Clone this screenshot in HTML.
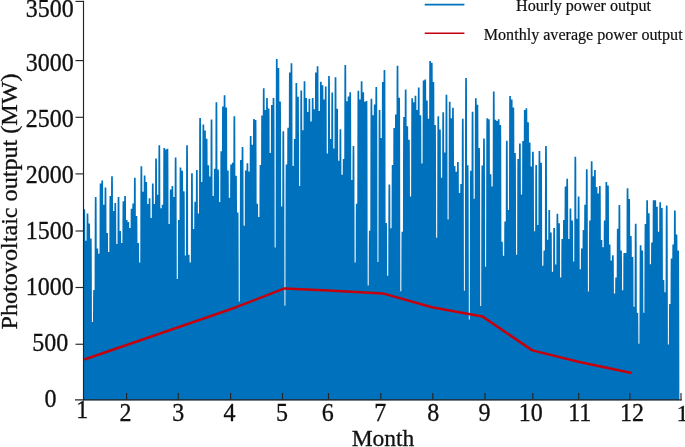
<!DOCTYPE html>
<html><head><meta charset="utf-8"><title>Photovoltaic output</title>
<style>
html,body{margin:0;padding:0;background:#fff;}
body{width:685px;height:447px;overflow:hidden;position:relative;font-family:"Liberation Serif",serif;}
svg{position:absolute;left:0;top:0;}
text{font-family:"Liberation Serif",serif;fill:#111;stroke:#111;stroke-width:0.3px;}
</style></head><body>
<svg width="685" height="447" viewBox="0 0 685 447">
<rect width="685" height="447" fill="#fff"/>
<path d="M83.90,209.2 83.90,216.8 83.90,232.1 83.90,256.9 83.90,295.1 83.90,342.9 83.90,400.2 85.53,400.2 85.45,342.9 85.37,295.1 85.30,256.9 85.24,232.1 85.19,216.8 85.11,209.2ZM85.04,240.7 84.97,247.1 84.91,259.8 84.85,280.6 84.78,312.5 84.70,352.3 84.62,400.2 87.16,400.2 87.08,352.3 87.01,312.5 86.93,280.6 86.87,259.8 86.82,247.1 86.74,240.7ZM86.67,213.6 86.60,221.0 86.54,236.0 86.48,260.2 86.41,297.6 86.33,344.2 86.25,400.2 88.79,400.2 88.71,344.2 88.64,297.6 88.57,260.2 88.51,236.0 88.45,221.0 88.37,213.6ZM88.30,223.4 88.23,230.5 88.17,244.6 88.11,267.6 88.04,303.0 87.97,347.2 87.88,400.2 90.42,400.2 90.34,347.2 90.27,303.0 90.20,267.6 90.14,244.6 90.08,230.5 90.00,223.4ZM89.94,238.6 89.86,245.1 89.80,258.0 89.74,279.0 89.67,311.3 89.60,351.7 89.52,400.2 92.06,400.2 91.97,351.7 91.90,311.3 91.83,279.0 91.77,258.0 91.71,245.1 91.64,238.6ZM91.57,322.0 91.49,325.1 91.44,331.4 91.37,341.6 91.30,357.2 91.23,376.7 91.15,400.2 93.69,400.2 93.61,376.7 93.53,357.2 93.46,341.6 93.40,331.4 93.34,325.1 93.27,322.0ZM93.20,290.0 93.12,294.4 93.07,303.2 93.01,317.6 92.93,339.6 92.86,367.1 92.78,400.2 95.32,400.2 95.24,367.1 95.16,339.6 95.09,317.6 95.03,303.2 94.97,294.4 94.90,290.0ZM94.83,196.9 94.75,205.1 94.70,221.3 94.64,247.8 94.57,288.4 94.49,339.2 94.41,400.2 96.95,400.2 96.87,339.2 96.79,288.4 96.72,247.8 96.66,221.3 96.61,205.1 96.53,196.9ZM96.46,248.5 96.39,254.6 96.33,266.7 96.27,286.4 96.20,316.8 96.12,354.7 96.04,400.2 98.58,400.2 98.50,354.7 98.43,316.8 98.36,286.4 98.29,266.7 98.24,254.6 98.16,248.5ZM98.09,253.8 98.02,259.7 97.96,271.4 97.90,290.4 97.83,319.7 97.75,356.3 97.67,400.2 100.21,400.2 100.13,356.3 100.06,319.7 99.99,290.4 99.93,271.4 99.87,259.7 99.79,253.8ZM99.73,183.4 99.65,192.1 99.59,209.5 99.53,237.6 99.46,281.0 99.39,335.2 99.31,400.2 101.84,400.2 101.76,335.2 101.69,281.0 101.62,237.6 101.56,209.5 101.50,192.1 101.42,183.4ZM101.36,180.6 101.28,189.4 101.22,207.0 101.16,235.5 101.09,279.4 101.02,334.3 100.94,400.2 103.48,400.2 103.40,334.3 103.32,279.4 103.25,235.5 103.19,207.0 103.13,189.4 103.06,180.6ZM102.99,204.8 102.91,212.6 102.86,228.3 102.79,253.7 102.72,292.7 102.65,341.6 102.57,400.2 105.11,400.2 105.03,341.6 104.95,292.7 104.88,253.7 104.82,228.3 104.76,212.6 104.69,204.8ZM104.62,187.6 104.54,196.2 104.49,213.2 104.43,240.8 104.36,283.3 104.28,336.4 104.20,400.2 106.74,400.2 106.66,336.4 106.58,283.3 106.51,240.8 106.45,213.2 106.40,196.2 106.32,187.6ZM106.25,233.0 106.18,239.7 106.12,253.1 106.06,274.8 105.99,308.2 105.91,350.0 105.83,400.2 108.37,400.2 108.29,350.0 108.22,308.2 108.14,274.8 108.08,253.1 108.03,239.7 107.95,233.0ZM107.88,252.0 107.81,257.9 107.75,269.8 107.69,289.1 107.62,318.7 107.54,355.7 107.46,400.2 110.00,400.2 109.92,355.7 109.85,318.7 109.78,289.1 109.71,269.8 109.66,257.9 109.58,252.0ZM109.51,196.1 109.44,204.2 109.38,220.6 109.32,247.1 109.25,287.9 109.18,339.0 109.09,400.2 111.63,400.2 111.55,339.0 111.48,287.9 111.41,247.1 111.35,220.6 111.29,204.2 111.21,196.1ZM111.15,176.3 111.07,185.2 111.01,203.1 110.95,232.2 110.88,277.0 110.81,333.0 110.73,400.2 113.27,400.2 113.18,333.0 113.11,277.0 113.04,232.2 112.98,203.1 112.92,185.2 112.85,176.3ZM112.78,210.9 112.70,218.5 112.64,233.7 112.58,258.3 112.51,296.1 112.44,343.4 112.36,400.2 114.90,400.2 114.82,343.4 114.74,296.1 114.67,258.3 114.61,233.7 114.55,218.5 114.48,210.9ZM114.41,203.1 114.33,211.0 114.28,226.7 114.22,252.3 114.14,291.8 114.07,341.1 113.99,400.2 116.53,400.2 116.45,341.1 116.37,291.8 116.30,252.3 116.24,226.7 116.18,211.0 116.11,203.1ZM116.04,244.0 115.96,250.2 115.91,262.7 115.85,283.1 115.78,314.3 115.70,353.3 115.62,400.2 118.16,400.2 118.08,353.3 118.00,314.3 117.93,283.1 117.87,262.7 117.82,250.2 117.74,244.0ZM117.67,196.9 117.60,205.1 117.54,221.3 117.48,247.8 117.41,288.4 117.33,339.2 117.25,400.2 119.79,400.2 119.71,339.2 119.64,288.4 119.56,247.8 119.50,221.3 119.45,205.1 119.37,196.9ZM119.30,231.0 119.23,237.8 119.17,251.3 119.11,273.3 119.04,307.1 118.96,349.4 118.88,400.2 121.42,400.2 121.34,349.4 121.27,307.1 121.20,273.3 121.14,251.3 121.08,237.8 121.00,231.0ZM120.93,243.0 120.86,249.3 120.80,261.9 120.74,282.3 120.67,313.7 120.60,353.0 120.51,400.2 123.05,400.2 122.97,353.0 122.90,313.7 122.83,282.3 122.77,261.9 122.71,249.3 122.63,243.0ZM122.57,201.3 122.49,209.3 122.43,225.2 122.37,251.0 122.30,290.8 122.23,340.5 122.15,400.2 124.69,400.2 124.60,340.5 124.53,290.8 124.46,251.0 124.40,225.2 124.34,209.3 124.27,201.3ZM124.20,196.1 124.12,204.2 124.07,220.6 124.00,247.1 123.93,287.9 123.86,339.0 123.78,400.2 126.32,400.2 126.24,339.0 126.16,287.9 126.09,247.1 126.03,220.6 125.97,204.2 125.90,196.1ZM125.83,220.0 125.75,227.2 125.70,241.6 125.64,265.1 125.56,301.1 125.49,346.1 125.41,400.2 127.95,400.2 127.87,346.1 127.79,301.1 127.72,265.1 127.66,241.6 127.60,227.2 127.53,220.0ZM127.46,222.0 127.38,229.1 127.33,243.4 127.27,266.6 127.20,302.2 127.12,346.7 127.04,400.2 129.58,400.2 129.50,346.7 129.42,302.2 129.35,266.6 129.29,243.4 129.24,229.1 129.16,222.0ZM129.09,228.0 129.02,234.9 128.96,248.7 128.90,271.1 128.83,305.5 128.75,348.5 128.67,400.2 131.21,400.2 131.13,348.5 131.06,305.5 130.99,271.1 130.92,248.7 130.87,234.9 130.79,228.0ZM130.72,208.8 130.65,216.5 130.59,231.8 130.53,256.7 130.46,295.0 130.38,342.8 130.30,400.2 132.84,400.2 132.76,342.8 132.69,295.0 132.62,256.7 132.56,231.8 132.50,216.5 132.42,208.8ZM132.36,203.4 132.28,211.3 132.22,227.0 132.16,252.6 132.09,292.0 132.02,341.2 131.94,400.2 134.48,400.2 134.39,341.2 134.32,292.0 134.25,252.6 134.19,227.0 134.13,211.3 134.06,203.4ZM133.99,177.7 133.91,186.6 133.85,204.4 133.79,233.3 133.72,277.8 133.65,333.4 133.57,400.2 136.11,400.2 136.03,333.4 135.95,277.8 135.88,233.3 135.82,204.4 135.76,186.6 135.69,177.7ZM135.62,215.9 135.54,223.2 135.49,238.0 135.42,261.9 135.35,298.8 135.28,344.9 135.20,400.2 137.74,400.2 137.66,344.9 137.58,298.8 137.51,261.9 137.45,238.0 137.39,223.2 137.32,215.9ZM137.25,243.0 137.17,249.3 137.12,261.9 137.06,282.3 136.99,313.7 136.91,353.0 136.83,400.2 139.37,400.2 139.29,353.0 139.21,313.7 139.14,282.3 139.08,261.9 139.03,249.3 138.95,243.0ZM138.88,262.6 138.81,268.1 138.75,279.1 138.69,297.0 138.62,324.5 138.54,358.9 138.46,400.2 141.00,400.2 140.92,358.9 140.85,324.5 140.77,297.0 140.71,279.1 140.66,268.1 140.58,262.6ZM140.51,166.3 140.44,175.6 140.38,194.3 140.32,224.8 140.25,271.5 140.17,330.0 140.09,400.2 142.63,400.2 142.55,330.0 142.48,271.5 142.41,224.8 142.34,194.3 142.29,175.6 142.21,166.3ZM142.14,191.7 142.07,200.0 142.01,216.7 141.95,243.8 141.88,285.5 141.81,337.6 141.72,400.2 144.26,400.2 144.18,337.6 144.11,285.5 144.04,243.8 143.98,216.7 143.92,200.0 143.84,191.7ZM143.78,175.6 143.70,184.5 143.64,202.5 143.58,231.7 143.51,276.6 143.44,332.8 143.36,400.2 145.90,400.2 145.81,332.8 145.74,276.6 145.67,231.7 145.61,202.5 145.55,184.5 145.48,175.6ZM145.41,182.0 145.33,190.8 145.27,208.2 145.21,236.6 145.14,280.2 145.07,334.8 144.99,400.2 147.53,400.2 147.45,334.8 147.37,280.2 147.30,236.6 147.24,208.2 147.18,190.8 147.11,182.0ZM147.04,203.9 146.96,211.8 146.91,227.5 146.85,253.0 146.77,292.3 146.70,341.3 146.62,400.2 149.16,400.2 149.08,341.3 149.00,292.3 148.93,253.0 148.87,227.5 148.81,211.8 148.74,203.9ZM148.67,198.3 148.59,206.4 148.54,222.6 148.48,248.8 148.41,289.2 148.33,339.6 148.25,400.2 150.79,400.2 150.71,339.6 150.63,289.2 150.56,248.8 150.50,222.6 150.45,206.4 150.37,198.3ZM150.30,218.0 150.23,225.3 150.17,239.9 150.11,263.6 150.04,300.0 149.96,345.5 149.88,400.2 152.42,400.2 152.34,345.5 152.27,300.0 152.19,263.6 152.13,239.9 152.08,225.3 152.00,218.0ZM151.93,183.4 151.86,192.1 151.80,209.5 151.74,237.6 151.67,281.0 151.59,335.2 151.51,400.2 154.05,400.2 153.97,335.2 153.90,281.0 153.83,237.6 153.77,209.5 153.71,192.1 153.63,183.4ZM153.56,203.9 153.49,211.8 153.43,227.5 153.37,253.0 153.30,292.3 153.23,341.3 153.14,400.2 155.68,400.2 155.60,341.3 155.53,292.3 155.46,253.0 155.40,227.5 155.34,211.8 155.26,203.9ZM155.20,158.4 155.12,168.1 155.06,187.4 155.00,218.8 154.93,267.2 154.86,327.7 154.78,400.2 157.32,400.2 157.23,327.7 157.16,267.2 157.09,218.8 157.03,187.4 156.97,168.1 156.90,158.4ZM156.83,194.7 156.75,202.9 156.70,219.3 156.63,246.0 156.56,287.2 156.49,338.5 156.41,400.2 158.95,400.2 158.87,338.5 158.79,287.2 158.72,246.0 158.66,219.3 158.60,202.9 158.53,194.7ZM158.46,145.3 158.38,155.5 158.33,175.8 158.27,209.0 158.19,260.0 158.12,323.7 158.04,400.2 160.58,400.2 160.50,323.7 160.42,260.0 160.35,209.0 160.29,175.8 160.23,155.5 160.16,145.3ZM160.09,208.3 160.01,216.0 159.96,231.3 159.90,256.3 159.83,294.7 159.75,342.6 159.67,400.2 162.21,400.2 162.13,342.6 162.05,294.7 161.98,256.3 161.92,231.3 161.87,216.0 161.79,208.3ZM161.72,204.8 161.65,212.6 161.59,228.3 161.53,253.7 161.46,292.7 161.38,341.6 161.30,400.2 163.84,400.2 163.76,341.6 163.69,292.7 163.62,253.7 163.55,228.3 163.50,212.6 163.42,204.8ZM163.35,147.9 163.28,158.0 163.22,178.2 163.16,211.0 163.09,261.4 163.01,324.5 162.93,400.2 165.47,400.2 165.39,324.5 165.32,261.4 165.25,211.0 165.19,178.2 165.13,158.0 165.05,147.9ZM164.99,149.6 164.91,159.7 164.85,179.7 164.79,212.3 164.72,262.4 164.65,325.0 164.56,400.2 167.11,400.2 167.02,325.0 166.95,262.4 166.88,212.3 166.82,179.7 166.76,159.7 166.69,149.6ZM166.62,148.8 166.54,158.8 166.48,178.9 166.42,211.6 166.35,261.9 166.28,324.8 166.20,400.2 168.74,400.2 168.66,324.8 168.58,261.9 168.51,211.6 168.45,178.9 168.39,158.8 168.32,148.8ZM168.25,224.0 168.17,231.0 168.12,245.1 168.05,268.1 167.98,303.3 167.91,347.3 167.83,400.2 170.37,400.2 170.29,347.3 170.21,303.3 170.14,268.1 170.08,245.1 170.02,231.0 169.95,224.0ZM169.88,189.4 169.80,197.8 169.75,214.7 169.69,242.1 169.62,284.3 169.54,337.0 169.46,400.2 172.00,400.2 171.92,337.0 171.84,284.3 171.77,242.1 171.71,214.7 171.66,197.8 171.58,189.4ZM171.51,185.9 171.44,194.5 171.38,211.6 171.32,239.5 171.25,282.3 171.17,335.9 171.09,400.2 173.63,400.2 173.55,335.9 173.48,282.3 173.40,239.5 173.34,211.6 173.29,194.5 173.21,185.9ZM173.14,196.9 173.07,205.1 173.01,221.3 172.95,247.8 172.88,288.4 172.80,339.2 172.72,400.2 175.26,400.2 175.18,339.2 175.11,288.4 175.04,247.8 174.97,221.3 174.92,205.1 174.84,196.9ZM174.77,157.5 174.70,167.2 174.64,186.6 174.58,218.2 174.51,266.7 174.44,327.4 174.35,400.2 176.89,400.2 176.81,327.4 176.74,266.7 176.67,218.2 176.61,186.6 176.55,167.2 176.47,157.5ZM176.41,279.0 176.33,283.8 176.27,293.5 176.21,309.3 176.14,333.5 176.07,363.8 175.99,400.2 178.53,400.2 178.44,363.8 178.37,333.5 178.30,309.3 178.24,293.5 178.18,283.8 178.11,279.0ZM178.04,220.0 177.96,227.2 177.90,241.6 177.84,265.1 177.77,301.1 177.70,346.1 177.62,400.2 180.16,400.2 180.08,346.1 180.00,301.1 179.93,265.1 179.87,241.6 179.81,227.2 179.74,220.0ZM179.67,167.5 179.59,176.8 179.54,195.4 179.48,225.7 179.40,272.2 179.33,330.4 179.25,400.2 181.79,400.2 181.71,330.4 181.63,272.2 181.56,225.7 181.50,195.4 181.44,176.8 181.37,167.5ZM181.30,170.7 181.22,179.8 181.17,198.2 181.11,228.0 181.04,274.0 180.96,331.3 180.88,400.2 183.42,400.2 183.34,331.3 183.26,274.0 183.19,228.0 183.13,198.2 183.08,179.8 183.00,170.7ZM182.93,191.2 182.86,199.5 182.80,216.2 182.74,243.4 182.67,285.2 182.59,337.5 182.51,400.2 185.05,400.2 184.97,337.5 184.90,285.2 184.82,243.4 184.76,216.2 184.71,199.5 184.63,191.2ZM184.56,255.5 184.49,261.3 184.43,272.9 184.37,291.7 184.30,320.6 184.22,356.8 184.14,400.2 186.68,400.2 186.60,356.8 186.53,320.6 186.46,291.7 186.40,272.9 186.34,261.3 186.26,255.5ZM186.19,145.3 186.12,155.5 186.06,175.8 186.00,209.0 185.93,260.0 185.86,323.7 185.77,400.2 188.31,400.2 188.23,323.7 188.16,260.0 188.09,209.0 188.03,175.8 187.97,155.5 187.89,145.3ZM187.83,254.7 187.75,260.5 187.69,272.2 187.63,291.1 187.56,320.2 187.49,356.5 187.41,400.2 189.95,400.2 189.86,356.5 189.79,320.2 189.72,291.1 189.66,272.2 189.60,260.5 189.53,254.7ZM189.46,262.5 189.38,268.0 189.33,279.0 189.26,296.9 189.19,324.5 189.12,358.9 189.04,400.2 191.58,400.2 191.50,358.9 191.42,324.5 191.35,296.9 191.29,279.0 191.23,268.0 191.16,262.5ZM191.09,173.3 191.01,182.4 190.96,200.5 190.90,230.0 190.82,275.4 190.75,332.1 190.67,400.2 193.21,400.2 193.13,332.1 193.05,275.4 192.98,230.0 192.92,200.5 192.86,182.4 192.79,173.3ZM192.72,229.0 192.64,235.8 192.59,249.5 192.53,271.8 192.46,306.0 192.38,348.8 192.30,400.2 194.84,400.2 194.76,348.8 194.68,306.0 194.61,271.8 194.55,249.5 194.50,235.8 194.42,229.0ZM194.35,201.7 194.28,209.6 194.22,225.5 194.16,251.3 194.09,291.0 194.01,340.6 193.93,400.2 196.47,400.2 196.39,340.6 196.32,291.0 196.25,251.3 196.18,225.5 196.13,209.6 196.05,201.7ZM195.98,170.1 195.91,179.3 195.85,197.7 195.79,227.6 195.72,273.7 195.64,331.2 195.56,400.2 198.10,400.2 198.02,331.2 197.95,273.7 197.88,227.6 197.82,197.7 197.76,179.3 197.68,170.1ZM197.62,213.6 197.54,221.0 197.48,236.0 197.42,260.2 197.35,297.6 197.28,344.2 197.19,400.2 199.74,400.2 199.65,344.2 199.58,297.6 199.51,260.2 199.45,236.0 199.39,221.0 199.31,213.6ZM199.25,118.0 199.17,129.3 199.11,151.9 199.05,188.6 198.98,245.0 198.91,315.5 198.83,400.2 201.37,400.2 201.29,315.5 201.21,245.0 201.14,188.6 201.08,151.9 201.02,129.3 200.95,118.0ZM200.88,181.9 200.80,190.6 200.75,208.1 200.68,236.5 200.61,280.1 200.54,334.7 200.46,400.2 203.00,400.2 202.92,334.7 202.84,280.1 202.77,236.5 202.71,208.1 202.65,190.6 202.58,181.9ZM202.51,124.5 202.43,135.5 202.38,157.6 202.32,193.4 202.25,248.6 202.17,317.5 202.09,400.2 204.63,400.2 204.55,317.5 204.47,248.6 204.40,193.4 204.34,157.6 204.29,135.5 204.21,124.5ZM204.14,130.6 204.07,141.4 204.01,163.0 203.95,198.0 203.88,251.9 203.80,319.3 203.72,400.2 206.26,400.2 206.18,319.3 206.11,251.9 206.03,198.0 205.97,163.0 205.92,141.4 205.84,130.6ZM205.77,138.7 205.70,149.2 205.64,170.1 205.58,204.1 205.51,256.4 205.43,321.8 205.35,400.2 207.89,400.2 207.81,321.8 207.74,256.4 207.67,204.1 207.60,170.1 207.55,149.2 207.47,138.7ZM207.40,165.3 207.33,174.7 207.27,193.5 207.21,224.0 207.14,271.0 207.07,329.7 206.98,400.2 209.52,400.2 209.44,329.7 209.37,271.0 209.30,224.0 209.24,193.5 209.18,174.7 209.10,165.3ZM209.04,176.6 208.96,185.5 208.90,203.4 208.84,232.5 208.77,277.2 208.70,333.1 208.62,400.2 211.16,400.2 211.07,333.1 211.00,277.2 210.93,232.5 210.87,203.4 210.81,185.5 210.74,176.6ZM210.67,119.4 210.59,130.7 210.53,153.1 210.47,189.6 210.40,245.8 210.33,316.0 210.25,400.2 212.79,400.2 212.71,316.0 212.63,245.8 212.56,189.6 212.50,153.1 212.44,130.7 212.37,119.4ZM212.30,195.9 212.22,204.1 212.17,220.4 212.11,247.0 212.03,287.8 211.96,338.9 211.88,400.2 214.42,400.2 214.34,338.9 214.26,287.8 214.19,247.0 214.13,220.4 214.07,204.1 214.00,195.9ZM213.93,168.8 213.85,178.1 213.80,196.6 213.74,226.7 213.67,272.9 213.59,330.8 213.51,400.2 216.05,400.2 215.97,330.8 215.89,272.9 215.82,226.7 215.76,196.6 215.71,178.1 215.63,168.8ZM215.56,102.3 215.49,114.2 215.43,138.0 215.37,176.7 215.30,236.3 215.22,310.8 215.14,400.2 217.68,400.2 217.60,310.8 217.53,236.3 217.45,176.7 217.39,138.0 217.34,114.2 217.26,102.3ZM217.19,169.6 217.12,178.8 217.06,197.3 217.00,227.2 216.93,273.4 216.85,331.0 216.77,400.2 219.31,400.2 219.23,331.0 219.16,273.4 219.09,227.2 219.03,197.3 218.97,178.8 218.89,169.6ZM218.82,202.0 218.75,209.9 218.69,225.8 218.63,251.6 218.56,291.2 218.49,340.7 218.40,400.2 220.94,400.2 220.86,340.7 220.79,291.2 220.72,251.6 220.66,225.8 220.60,209.9 220.52,202.0ZM220.46,151.3 220.38,161.3 220.32,181.2 220.26,213.5 220.19,263.3 220.12,325.5 220.04,400.2 222.58,400.2 222.49,325.5 222.42,263.3 222.35,213.5 222.29,181.2 222.23,161.3 222.16,151.3ZM222.09,106.6 222.01,118.4 221.96,141.9 221.89,180.0 221.82,238.7 221.75,312.1 221.67,400.2 224.21,400.2 224.13,312.1 224.05,238.7 223.98,180.0 223.92,141.9 223.86,118.4 223.79,106.6ZM223.72,95.3 223.64,107.5 223.59,131.8 223.53,171.5 223.45,232.5 223.38,308.7 223.30,400.2 225.84,400.2 225.76,308.7 225.68,232.5 225.61,171.5 225.55,131.8 225.49,107.5 225.42,95.3ZM225.35,107.5 225.27,119.2 225.22,142.6 225.16,180.7 225.09,239.2 225.01,312.4 224.93,400.2 227.47,400.2 227.39,312.4 227.31,239.2 227.24,180.7 227.18,142.6 227.13,119.2 227.05,107.5ZM226.98,170.5 226.91,179.7 226.85,198.1 226.79,227.9 226.72,273.9 226.64,331.3 226.56,400.2 229.10,400.2 229.02,331.3 228.95,273.9 228.88,227.9 228.81,198.1 228.76,179.7 228.68,170.5ZM228.61,197.7 228.54,205.8 228.48,222.0 228.42,248.3 228.35,288.8 228.27,339.4 228.19,400.2 230.73,400.2 230.65,339.4 230.58,288.8 230.51,248.3 230.45,222.0 230.39,205.8 230.31,197.7ZM230.25,164.5 230.17,173.9 230.11,192.7 230.05,223.4 229.98,270.5 229.91,329.5 229.83,400.2 232.37,400.2 232.28,329.5 232.21,270.5 232.14,223.4 232.08,192.7 232.02,173.9 231.95,164.5ZM231.88,162.7 231.80,172.2 231.74,191.2 231.68,222.1 231.61,269.6 231.54,329.0 231.46,400.2 234.00,400.2 233.92,329.0 233.84,269.6 233.77,222.1 233.71,191.2 233.65,172.2 233.58,162.7ZM233.51,116.3 233.43,127.6 233.38,150.3 233.31,187.3 233.24,244.0 233.17,315.0 233.09,400.2 235.63,400.2 235.55,315.0 235.47,244.0 235.40,187.3 235.34,150.3 235.28,127.6 235.21,116.3ZM235.14,175.8 235.06,184.8 235.01,202.7 234.95,231.9 234.88,276.8 234.80,332.9 234.72,400.2 237.26,400.2 237.18,332.9 237.10,276.8 237.03,231.9 236.97,202.7 236.92,184.8 236.84,175.8ZM236.77,212.6 236.70,220.1 236.64,235.1 236.58,259.5 236.51,297.0 236.43,343.9 236.35,400.2 238.89,400.2 238.81,343.9 238.74,297.0 238.66,259.5 238.60,235.1 238.55,220.1 238.47,212.6ZM238.40,301.5 238.33,305.4 238.27,313.3 238.21,326.2 238.14,345.9 238.06,370.6 237.98,400.2 240.52,400.2 240.44,370.6 240.37,345.9 240.30,326.2 240.23,313.3 240.18,305.4 240.10,301.5ZM240.03,160.1 239.96,169.7 239.90,188.9 239.84,220.1 239.77,268.1 239.70,328.2 239.61,400.2 242.15,400.2 242.07,328.2 242.00,268.1 241.93,220.1 241.87,188.9 241.81,169.7 241.73,160.1ZM241.67,146.9 241.59,157.1 241.53,177.3 241.47,210.3 241.40,260.9 241.33,324.2 241.25,400.2 243.79,400.2 243.70,324.2 243.63,260.9 243.56,210.3 243.50,177.3 243.44,157.1 243.37,146.9ZM243.30,225.7 243.22,232.7 243.16,246.6 243.10,269.3 243.03,304.2 242.96,347.8 242.88,400.2 245.42,400.2 245.34,347.8 245.26,304.2 245.19,269.3 245.13,246.6 245.07,232.7 245.00,225.7ZM244.93,170.5 244.85,179.7 244.80,198.1 244.74,227.9 244.66,273.9 244.59,331.3 244.51,400.2 247.05,400.2 246.97,331.3 246.89,273.9 246.82,227.9 246.76,198.1 246.70,179.7 246.63,170.5ZM246.56,163.2 246.48,172.7 246.43,191.7 246.37,222.5 246.30,269.9 246.22,329.1 246.14,400.2 248.68,400.2 248.60,329.1 248.52,269.9 248.45,222.5 248.39,191.7 248.34,172.7 248.26,163.2ZM248.19,171.4 248.12,180.6 248.06,198.9 248.00,228.6 247.93,274.4 247.85,331.6 247.77,400.2 250.31,400.2 250.23,331.6 250.16,274.4 250.08,228.6 250.02,198.9 249.97,180.6 249.89,171.4ZM249.82,135.9 249.75,146.5 249.69,167.6 249.63,202.0 249.56,254.8 249.48,320.9 249.40,400.2 251.94,400.2 251.86,320.9 251.79,254.8 251.72,202.0 251.66,167.6 251.60,146.5 251.52,135.9ZM251.45,144.7 251.38,154.9 251.32,175.3 251.26,208.5 251.19,259.7 251.12,323.5 251.03,400.2 253.57,400.2 253.49,323.5 253.42,259.7 253.35,208.5 253.29,175.3 253.23,154.9 253.15,144.7ZM253.09,118.9 253.01,130.2 252.95,152.7 252.89,189.2 252.82,245.5 252.75,315.8 252.67,400.2 255.21,400.2 255.12,315.8 255.05,245.5 254.98,189.2 254.92,152.7 254.86,130.2 254.79,118.9ZM254.72,120.1 254.64,131.3 254.59,153.7 254.52,190.1 254.45,246.2 254.38,316.2 254.30,400.2 256.84,400.2 256.76,316.2 256.68,246.2 256.61,190.1 256.55,153.7 256.49,131.3 256.42,120.1ZM256.35,203.8 256.27,211.7 256.22,227.4 256.16,252.9 256.08,292.2 256.01,341.3 255.93,400.2 258.47,400.2 258.39,341.3 258.31,292.2 258.24,252.9 258.18,227.4 258.12,211.7 258.05,203.8ZM257.98,216.9 257.90,224.2 257.85,238.9 257.79,262.7 257.72,299.4 257.64,345.2 257.56,400.2 260.10,400.2 260.02,345.2 259.94,299.4 259.87,262.7 259.81,238.9 259.76,224.2 259.68,216.9ZM259.61,165.0 259.54,174.4 259.48,193.2 259.42,223.8 259.35,270.8 259.27,329.6 259.19,400.2 261.73,400.2 261.65,329.6 261.58,270.8 261.51,223.8 261.44,193.2 261.39,174.4 261.31,165.0ZM261.24,115.4 261.17,126.8 261.11,149.6 261.05,186.6 260.98,243.6 260.90,314.8 260.82,400.2 263.36,400.2 263.28,314.8 263.21,243.6 263.14,186.6 263.08,149.6 263.02,126.8 262.94,115.4ZM262.88,88.2 262.80,100.7 262.74,125.6 262.68,166.2 262.61,228.6 262.54,306.6 262.46,400.2 265.00,400.2 264.91,306.6 264.84,228.6 264.77,166.2 264.71,125.6 264.65,100.7 264.58,88.2ZM264.51,110.1 264.43,121.7 264.37,145.0 264.31,182.7 264.24,240.7 264.17,313.2 264.09,400.2 266.63,400.2 266.55,313.2 266.47,240.7 266.40,182.7 266.34,145.0 266.28,121.7 266.21,110.1ZM266.14,97.9 266.06,110.0 266.01,134.2 265.94,173.5 265.87,233.9 265.80,309.5 265.72,400.2 268.26,400.2 268.18,309.5 268.10,233.9 268.03,173.5 267.97,134.2 267.91,110.0 267.84,97.9ZM267.77,108.4 267.69,120.1 267.64,143.4 267.58,181.3 267.51,239.7 267.43,312.7 267.35,400.2 269.89,400.2 269.81,312.7 269.73,239.7 269.66,181.3 269.60,143.4 269.55,120.1 269.47,108.4ZM269.40,153.1 269.33,163.0 269.27,182.7 269.21,214.8 269.14,264.3 269.06,326.1 268.98,400.2 271.52,400.2 271.44,326.1 271.37,264.3 271.29,214.8 271.23,182.7 271.18,163.0 271.10,153.1ZM271.03,104.9 270.96,116.7 270.90,140.3 270.84,178.7 270.77,237.8 270.69,311.6 270.61,400.2 273.15,400.2 273.07,311.6 273.00,237.8 272.93,178.7 272.86,140.3 272.81,116.7 272.73,104.9ZM272.66,97.9 272.59,110.0 272.53,134.2 272.47,173.5 272.40,233.9 272.33,309.5 272.24,400.2 274.78,400.2 274.70,309.5 274.63,233.9 274.56,173.5 274.50,134.2 274.44,110.0 274.36,97.9ZM274.30,247.5 274.22,253.6 274.16,265.8 274.10,285.7 274.03,316.2 273.96,354.4 273.88,400.2 276.42,400.2 276.33,354.4 276.26,316.2 276.19,285.7 276.13,265.8 276.07,253.6 276.00,247.5ZM275.93,58.9 275.85,72.6 275.79,99.9 275.73,144.2 275.66,212.5 275.59,297.8 275.51,400.2 278.05,400.2 277.97,297.8 277.89,212.5 277.82,144.2 277.76,99.9 277.70,72.6 277.63,58.9ZM277.56,68.0 277.48,81.3 277.43,107.9 277.37,151.1 277.29,217.5 277.22,300.5 277.14,400.2 279.68,400.2 279.60,300.5 279.52,217.5 279.45,151.1 279.39,107.9 279.33,81.3 279.26,68.0ZM279.19,101.4 279.11,113.3 279.06,137.2 279.00,176.1 278.93,235.9 278.85,310.6 278.77,400.2 281.31,400.2 281.23,310.6 281.15,235.9 281.08,176.1 281.02,137.2 280.97,113.3 280.89,101.4ZM280.82,206.4 280.75,214.2 280.69,229.7 280.63,254.8 280.56,293.6 280.48,342.1 280.40,400.2 282.94,400.2 282.86,342.1 282.79,293.6 282.71,254.8 282.65,229.7 282.60,214.2 282.52,206.4ZM282.45,131.2 282.38,141.9 282.32,163.5 282.26,198.4 282.19,252.2 282.11,319.5 282.03,400.2 284.57,400.2 284.49,319.5 284.42,252.2 284.35,198.4 284.29,163.5 284.23,141.9 284.15,131.2ZM284.08,305.7 284.01,309.5 283.95,317.0 283.89,329.3 283.82,348.2 283.75,371.8 283.66,400.2 286.20,400.2 286.12,371.8 286.05,348.2 285.98,329.3 285.92,317.0 285.86,309.5 285.78,305.7ZM285.72,164.5 285.64,173.9 285.58,192.7 285.52,223.4 285.45,270.5 285.38,329.5 285.30,400.2 287.84,400.2 287.75,329.5 287.68,270.5 287.61,223.4 287.55,192.7 287.49,173.9 287.42,164.5ZM287.35,127.7 287.27,138.6 287.22,160.4 287.15,195.8 287.08,250.3 287.01,318.4 286.93,400.2 289.47,400.2 289.39,318.4 289.31,250.3 289.24,195.8 289.18,160.4 289.12,138.6 289.05,127.7ZM288.98,72.4 288.90,85.5 288.85,111.7 288.79,154.4 288.71,219.9 288.64,301.9 288.56,400.2 291.10,400.2 291.02,301.9 290.94,219.9 290.87,154.4 290.81,111.7 290.75,85.5 290.68,72.4ZM290.61,63.3 290.53,76.8 290.48,103.7 290.42,147.5 290.35,214.9 290.27,299.1 290.19,400.2 292.73,400.2 292.65,299.1 292.57,214.9 292.50,147.5 292.44,103.7 292.39,76.8 292.31,63.3ZM292.24,166.0 292.17,175.4 292.11,194.1 292.05,224.6 291.98,271.4 291.90,329.9 291.82,400.2 294.36,400.2 294.28,329.9 294.21,271.4 294.14,224.6 294.07,194.1 294.02,175.4 293.94,166.0ZM293.87,139.1 293.80,149.5 293.74,170.4 293.68,204.3 293.61,256.6 293.53,321.9 293.45,400.2 295.99,400.2 295.91,321.9 295.84,256.6 295.77,204.3 295.71,170.4 295.65,149.5 295.57,139.1ZM295.50,82.9 295.43,95.6 295.37,121.0 295.31,162.2 295.24,225.7 295.17,305.0 295.09,400.2 297.62,400.2 297.54,305.0 297.47,225.7 297.40,162.2 297.34,121.0 297.28,95.6 297.21,82.9ZM297.14,96.7 297.06,108.8 297.00,133.1 296.94,172.5 296.87,233.3 296.80,309.1 296.72,400.2 299.26,400.2 299.18,309.1 299.10,233.3 299.03,172.5 298.97,133.1 298.91,108.8 298.84,96.7ZM298.77,186.0 298.69,194.6 298.64,211.7 298.57,239.6 298.50,282.4 298.43,335.9 298.35,400.2 300.89,400.2 300.81,335.9 300.73,282.4 300.66,239.6 300.60,211.7 300.54,194.6 300.47,186.0ZM300.40,90.5 300.32,102.8 300.27,127.6 300.21,167.9 300.14,229.8 300.06,307.3 299.98,400.2 302.52,400.2 302.44,307.3 302.36,229.8 302.29,167.9 302.23,127.6 302.18,102.8 302.10,90.5ZM302.03,130.3 301.96,141.1 301.90,162.7 301.84,197.8 301.77,251.8 301.69,319.2 301.61,400.2 304.15,400.2 304.07,319.2 304.00,251.8 303.92,197.8 303.86,162.7 303.81,141.1 303.73,130.3ZM303.66,81.2 303.59,93.9 303.53,119.5 303.47,160.9 303.40,224.7 303.32,304.5 303.24,400.2 305.78,400.2 305.70,304.5 305.63,224.7 305.56,160.9 305.49,119.5 305.44,93.9 305.36,81.2ZM305.29,97.9 305.22,110.0 305.16,134.2 305.10,173.5 305.03,233.9 304.96,309.5 304.87,400.2 307.41,400.2 307.33,309.5 307.26,233.9 307.19,173.5 307.13,134.2 307.07,110.0 306.99,97.9ZM306.93,111.9 306.85,123.4 306.79,146.5 306.73,184.0 306.66,241.6 306.59,313.7 306.51,400.2 309.05,400.2 308.96,313.7 308.89,241.6 308.82,184.0 308.76,146.5 308.70,123.4 308.63,111.9ZM308.56,98.8 308.48,110.8 308.42,134.9 308.36,174.1 308.29,234.4 308.22,309.8 308.14,400.2 310.68,400.2 310.60,309.8 310.52,234.4 310.45,174.1 310.39,134.9 310.33,110.8 310.26,98.8ZM310.19,121.5 310.11,132.7 310.06,155.0 310.00,191.2 309.92,246.9 309.85,316.6 309.77,400.2 312.31,400.2 312.23,316.6 312.15,246.9 312.08,191.2 312.02,155.0 311.96,132.7 311.89,121.5ZM311.82,97.9 311.74,110.0 311.69,134.2 311.63,173.5 311.56,233.9 311.48,309.5 311.40,400.2 313.94,400.2 313.86,309.5 313.78,233.9 313.71,173.5 313.65,134.2 313.60,110.0 313.52,97.9ZM313.45,109.3 313.38,120.9 313.32,144.2 313.26,182.0 313.19,240.2 313.11,312.9 313.03,400.2 315.57,400.2 315.49,312.9 315.42,240.2 315.34,182.0 315.28,144.2 315.23,120.9 315.15,109.3ZM315.08,72.4 315.01,85.5 314.95,111.7 314.89,154.4 314.82,219.9 314.74,301.9 314.66,400.2 317.20,400.2 317.12,301.9 317.05,219.9 316.98,154.4 316.92,111.7 316.86,85.5 316.78,72.4ZM316.71,66.3 316.64,79.6 316.58,106.3 316.52,149.8 316.45,216.5 316.38,300.0 316.29,400.2 318.83,400.2 318.75,300.0 318.68,216.5 318.61,149.8 318.55,106.3 318.49,79.6 318.41,66.3ZM318.35,111.0 318.27,122.6 318.21,145.7 318.15,183.3 318.08,241.1 318.01,313.4 317.93,400.2 320.47,400.2 320.38,313.4 320.31,241.1 320.24,183.3 320.18,145.7 320.12,122.6 320.05,111.0ZM319.98,81.7 319.90,94.4 319.85,119.9 319.78,161.3 319.71,225.0 319.64,304.6 319.56,400.2 322.10,400.2 322.02,304.6 321.94,225.0 321.87,161.3 321.81,119.9 321.75,94.4 321.68,81.7ZM321.61,85.2 321.53,97.8 321.48,123.0 321.42,163.9 321.34,226.9 321.27,305.7 321.19,400.2 323.73,400.2 323.65,305.7 323.57,226.9 323.50,163.9 323.44,123.0 323.38,97.8 323.31,85.2ZM323.24,99.6 323.16,111.6 323.11,135.6 323.05,174.7 322.98,234.8 322.90,310.0 322.82,400.2 325.36,400.2 325.28,310.0 325.20,234.8 325.13,174.7 325.07,135.6 325.02,111.6 324.94,99.6ZM324.87,86.4 324.80,99.0 324.74,124.1 324.68,164.9 324.61,227.6 324.53,306.1 324.45,400.2 326.99,400.2 326.91,306.1 326.84,227.6 326.77,164.9 326.70,124.1 326.65,99.0 326.57,86.4ZM326.50,153.4 326.43,163.3 326.37,183.0 326.31,215.1 326.24,264.5 326.16,326.2 326.08,400.2 328.62,400.2 328.54,326.2 328.47,264.5 328.40,215.1 328.34,183.0 328.28,163.3 328.20,153.4ZM328.13,75.9 328.06,88.9 328.00,114.8 327.94,157.0 327.87,221.8 327.80,302.9 327.72,400.2 330.25,400.2 330.17,302.9 330.10,221.8 330.03,157.0 329.97,114.8 329.91,88.9 329.84,75.9ZM329.77,138.9 329.69,149.4 329.63,170.3 329.57,204.2 329.50,256.5 329.43,321.8 329.35,400.2 331.89,400.2 331.81,321.8 331.73,256.5 331.66,204.2 331.60,170.3 331.54,149.4 331.47,138.9ZM331.40,92.6 331.32,104.9 331.27,129.5 331.20,169.5 331.13,231.0 331.06,307.9 330.98,400.2 333.52,400.2 333.44,307.9 333.36,231.0 333.29,169.5 333.23,129.5 333.17,104.9 333.10,92.6ZM333.03,148.5 332.95,158.6 332.90,178.7 332.84,211.4 332.77,261.8 332.69,324.7 332.61,400.2 335.15,400.2 335.07,324.7 334.99,261.8 334.92,211.4 334.86,178.7 334.81,158.6 334.73,148.5ZM334.66,77.3 334.59,90.2 334.53,116.1 334.47,158.0 334.40,222.6 334.32,303.3 334.24,400.2 336.78,400.2 336.70,303.3 336.63,222.6 336.55,158.0 336.49,116.1 336.44,90.2 336.36,77.3ZM336.29,108.7 336.22,120.3 336.16,143.7 336.10,181.6 336.03,239.9 335.95,312.7 335.87,400.2 338.41,400.2 338.33,312.7 338.26,239.9 338.19,181.6 338.12,143.7 338.07,120.3 337.99,108.7ZM337.92,160.8 337.85,170.4 337.79,189.5 337.73,220.7 337.66,268.5 337.59,328.4 337.50,400.2 340.04,400.2 339.96,328.4 339.89,268.5 339.82,220.7 339.76,189.5 339.70,170.4 339.62,160.8ZM339.56,129.3 339.48,140.1 339.42,161.8 339.36,197.0 339.29,251.2 339.22,318.9 339.14,400.2 341.68,400.2 341.59,318.9 341.52,251.2 341.45,197.0 341.39,161.8 341.33,140.1 341.26,129.3ZM341.19,174.8 341.11,183.8 341.05,201.8 340.99,231.2 340.92,276.2 340.85,332.6 340.77,400.2 343.31,400.2 343.23,332.6 343.15,276.2 343.08,231.2 343.02,201.8 342.96,183.8 342.89,174.8ZM342.82,159.0 342.74,168.6 342.69,187.9 342.63,219.3 342.55,267.5 342.48,327.8 342.40,400.2 344.94,400.2 344.86,327.8 344.78,267.5 344.71,219.3 344.65,187.9 344.59,168.6 344.52,159.0ZM344.45,64.9 344.37,78.3 344.32,105.1 344.26,148.7 344.19,215.8 344.11,299.6 344.03,400.2 346.57,400.2 346.49,299.6 346.41,215.8 346.34,148.7 346.28,105.1 346.23,78.3 346.15,64.9ZM346.08,101.3 346.01,113.3 345.95,137.2 345.89,176.0 345.82,235.8 345.74,310.5 345.66,400.2 348.20,400.2 348.12,310.5 348.05,235.8 347.97,176.0 347.91,137.2 347.86,113.3 347.78,101.3ZM347.71,96.4 347.64,108.6 347.58,132.9 347.52,172.4 347.45,233.1 347.37,309.1 347.29,400.2 349.83,400.2 349.75,309.1 349.68,233.1 349.61,172.4 349.55,132.9 349.49,108.6 349.41,96.4ZM349.34,92.2 349.27,104.5 349.21,129.2 349.15,169.2 349.08,230.8 349.01,307.8 348.92,400.2 351.46,400.2 351.38,307.8 351.31,230.8 351.24,169.2 351.18,129.2 351.12,104.5 351.04,92.2ZM350.98,180.1 350.90,188.9 350.84,206.5 350.78,235.1 350.71,279.1 350.64,334.2 350.56,400.2 353.10,400.2 353.01,334.2 352.94,279.1 352.87,235.1 352.81,206.5 352.75,188.9 352.68,180.1ZM352.61,145.9 352.53,156.1 352.48,176.4 352.41,209.5 352.34,260.3 352.27,323.9 352.19,400.2 354.73,400.2 354.65,323.9 354.57,260.3 354.50,209.5 354.44,176.4 354.38,156.1 354.31,145.9ZM354.24,262.6 354.16,268.1 354.11,279.1 354.05,297.0 353.97,324.5 353.90,358.9 353.82,400.2 356.36,400.2 356.28,358.9 356.20,324.5 356.13,297.0 356.07,279.1 356.01,268.1 355.94,262.6ZM355.87,203.7 355.79,211.6 355.74,227.3 355.68,252.8 355.61,292.1 355.53,341.2 355.45,400.2 357.99,400.2 357.91,341.2 357.83,292.1 357.76,252.8 357.70,227.3 357.65,211.6 357.57,203.7ZM357.50,90.8 357.43,103.2 357.37,127.9 357.31,168.2 357.24,230.0 357.16,307.4 357.08,400.2 359.62,400.2 359.54,307.4 359.47,230.0 359.40,168.2 359.33,127.9 359.28,103.2 359.20,90.8ZM359.13,99.6 359.06,111.6 359.00,135.6 358.94,174.7 358.87,234.8 358.79,310.0 358.71,400.2 361.25,400.2 361.17,310.0 361.10,234.8 361.03,174.7 360.97,135.6 360.91,111.6 360.83,99.6ZM360.76,81.2 360.69,93.9 360.63,119.5 360.57,160.9 360.50,224.7 360.43,304.5 360.35,400.2 362.88,400.2 362.80,304.5 362.73,224.7 362.66,160.9 362.60,119.5 362.54,93.9 362.47,81.2ZM362.40,92.2 362.32,104.5 362.26,129.2 362.20,169.2 362.13,230.8 362.06,307.8 361.98,400.2 364.52,400.2 364.44,307.8 364.36,230.8 364.29,169.2 364.23,129.2 364.17,104.5 364.10,92.2ZM364.03,101.7 363.95,113.6 363.90,137.5 363.83,176.3 363.76,236.0 363.69,310.6 363.61,400.2 366.15,400.2 366.07,310.6 365.99,236.0 365.92,176.3 365.86,137.5 365.80,113.6 365.73,101.7ZM365.66,101.0 365.58,112.9 365.53,136.9 365.47,175.8 365.40,235.6 365.32,310.4 365.24,400.2 367.78,400.2 367.70,310.4 367.62,235.6 367.55,175.8 367.49,136.9 367.44,112.9 367.36,101.0ZM367.29,285.6 367.22,290.2 367.16,299.4 367.10,314.2 367.03,337.2 366.95,365.8 366.87,400.2 369.41,400.2 369.33,365.8 369.26,337.2 369.18,314.2 369.12,299.4 369.07,290.2 368.99,285.6ZM368.92,230.8 368.85,237.6 368.79,251.1 368.73,273.1 368.66,307.0 368.58,349.4 368.50,400.2 371.04,400.2 370.96,349.4 370.89,307.0 370.82,273.1 370.75,251.1 370.70,237.6 370.62,230.8ZM370.55,98.7 370.48,110.7 370.42,134.9 370.36,174.1 370.29,234.4 370.22,309.7 370.13,400.2 372.67,400.2 372.59,309.7 372.52,234.4 372.45,174.1 372.39,134.9 372.33,110.7 372.25,98.7ZM372.19,115.3 372.11,126.7 372.05,149.5 371.99,186.5 371.92,243.5 371.85,314.7 371.77,400.2 374.31,400.2 374.22,314.7 374.15,243.5 374.08,186.5 374.02,149.5 373.96,126.7 373.89,115.3ZM373.82,104.5 373.74,116.3 373.68,140.0 373.62,178.4 373.55,237.5 373.48,311.5 373.40,400.2 375.94,400.2 375.86,311.5 375.78,237.5 375.71,178.4 375.65,140.0 375.59,116.3 375.52,104.5ZM375.45,86.9 375.37,99.5 375.32,124.5 375.26,165.3 375.18,227.9 375.11,306.2 375.03,400.2 377.57,400.2 377.49,306.2 377.41,227.9 377.34,165.3 377.28,124.5 377.22,99.5 377.15,86.9ZM377.08,261.9 377.00,267.4 376.95,278.5 376.89,296.5 376.82,324.1 376.74,358.7 376.66,400.2 379.20,400.2 379.12,358.7 379.04,324.1 378.97,296.5 378.91,278.5 378.86,267.4 378.78,261.9ZM378.71,110.1 378.64,121.7 378.58,144.9 378.52,182.6 378.45,240.6 378.37,313.2 378.29,400.2 380.83,400.2 380.75,313.2 380.68,240.6 380.60,182.6 380.54,144.9 380.49,121.7 380.41,110.1ZM380.34,138.0 380.27,148.5 380.21,169.5 380.15,203.6 380.08,256.0 380.00,321.5 379.92,400.2 382.46,400.2 382.38,321.5 382.31,256.0 382.24,203.6 382.18,169.5 382.12,148.5 382.04,138.0ZM381.97,82.0 381.90,94.8 381.84,120.2 381.78,161.6 381.71,225.2 381.64,304.8 381.55,400.2 384.09,400.2 384.01,304.8 383.94,225.2 383.87,161.6 383.81,120.2 383.75,94.8 383.67,82.0ZM383.61,70.1 383.53,83.3 383.47,109.7 383.41,152.6 383.34,218.7 383.27,301.2 383.19,400.2 385.73,400.2 385.64,301.2 385.57,218.7 385.50,152.6 385.44,109.7 385.38,83.3 385.31,70.1ZM385.24,222.9 385.16,230.0 385.11,244.2 385.04,267.2 384.97,302.7 384.90,347.0 384.82,400.2 387.36,400.2 387.28,347.0 387.20,302.7 387.13,267.2 387.07,244.2 387.01,230.0 386.94,222.9ZM386.87,275.8 386.79,280.8 386.74,290.7 386.68,306.9 386.60,331.8 386.53,362.9 386.45,400.2 388.99,400.2 388.91,362.9 388.83,331.8 388.76,306.9 388.70,290.7 388.64,280.8 388.57,275.8ZM388.50,184.5 388.42,193.1 388.37,210.4 388.31,238.4 388.24,281.6 388.16,335.5 388.08,400.2 390.62,400.2 390.54,335.5 390.46,281.6 390.39,238.4 390.33,210.4 390.28,193.1 390.20,184.5ZM390.13,228.2 390.06,235.1 390.00,248.8 389.94,271.2 389.87,305.6 389.79,348.6 389.71,400.2 392.25,400.2 392.17,348.6 392.10,305.6 392.03,271.2 391.96,248.8 391.91,235.1 391.83,228.2ZM391.76,165.0 391.69,174.4 391.63,193.2 391.57,223.8 391.50,270.8 391.42,329.6 391.34,400.2 393.88,400.2 393.80,329.6 393.73,270.8 393.66,223.8 393.60,193.2 393.54,174.4 393.46,165.0ZM393.39,128.0 393.32,138.9 393.26,160.7 393.20,196.1 393.13,250.5 393.06,318.5 392.98,400.2 395.51,400.2 395.43,318.5 395.36,250.5 395.29,196.1 395.23,160.7 395.17,138.9 395.10,128.0ZM395.03,114.5 394.95,125.9 394.89,148.7 394.83,185.9 394.76,243.0 394.69,314.5 394.61,400.2 397.15,400.2 397.07,314.5 396.99,243.0 396.92,185.9 396.86,148.7 396.80,125.9 396.73,114.5ZM396.66,65.8 396.58,79.1 396.53,105.9 396.46,149.4 396.39,216.3 396.32,299.9 396.24,400.2 398.78,400.2 398.70,299.9 398.62,216.3 398.55,149.4 398.49,105.9 398.43,79.1 398.36,65.8ZM398.29,97.8 398.21,109.9 398.16,134.1 398.10,173.4 398.03,233.9 397.95,309.5 397.87,400.2 400.41,400.2 400.33,309.5 400.25,233.9 400.18,173.4 400.12,134.1 400.07,109.9 399.99,97.8ZM399.92,291.2 399.85,295.6 399.79,304.3 399.73,318.4 399.66,340.2 399.58,367.5 399.50,400.2 402.04,400.2 401.96,367.5 401.89,340.2 401.81,318.4 401.75,304.3 401.70,295.6 401.62,291.2ZM401.55,231.7 401.48,238.4 401.42,251.9 401.36,273.8 401.29,307.5 401.21,349.6 401.13,400.2 403.67,400.2 403.59,349.6 403.52,307.5 403.45,273.8 403.38,251.9 403.33,238.4 403.25,231.7ZM403.18,117.1 403.11,128.4 403.05,151.1 402.99,187.9 402.92,244.5 402.85,315.3 402.76,400.2 405.30,400.2 405.22,315.3 405.15,244.5 405.08,187.9 405.02,151.1 404.96,128.4 404.88,117.1ZM404.82,89.6 404.74,102.0 404.68,126.9 404.62,167.2 404.55,229.4 404.48,307.0 404.40,400.2 406.94,400.2 406.85,307.0 406.78,229.4 406.71,167.2 406.65,126.9 406.59,102.0 406.52,89.6ZM406.45,126.3 406.37,137.3 406.31,159.2 406.25,194.8 406.18,249.6 406.11,318.0 406.03,400.2 408.57,400.2 408.49,318.0 408.41,249.6 408.34,194.8 408.28,159.2 408.22,137.3 408.15,126.3ZM408.08,139.8 408.00,150.2 407.95,171.0 407.89,204.9 407.81,257.0 407.74,322.1 407.66,400.2 410.20,400.2 410.12,322.1 410.04,257.0 409.97,204.9 409.91,171.0 409.85,150.2 409.78,139.8ZM409.71,196.6 409.63,204.7 409.58,221.0 409.52,247.5 409.45,288.2 409.37,339.1 409.29,400.2 411.83,400.2 411.75,339.1 411.67,288.2 411.60,247.5 411.54,221.0 411.49,204.7 411.41,196.6ZM411.34,98.3 411.27,110.4 411.21,134.6 411.15,173.8 411.08,234.2 411.00,309.6 410.92,400.2 413.46,400.2 413.38,309.6 413.31,234.2 413.23,173.8 413.17,134.6 413.12,110.4 413.04,98.3ZM412.97,102.2 412.90,114.1 412.84,138.0 412.78,176.7 412.71,236.3 412.63,310.8 412.55,400.2 415.09,400.2 415.01,310.8 414.94,236.3 414.87,176.7 414.81,138.0 414.75,114.1 414.67,102.2ZM414.60,95.7 414.53,107.9 414.47,132.2 414.41,171.8 414.34,232.7 414.27,308.9 414.18,400.2 416.72,400.2 416.64,308.9 416.57,232.7 416.50,171.8 416.44,132.2 416.38,107.9 416.30,95.7ZM416.24,110.1 416.16,121.7 416.10,144.9 416.04,182.6 415.97,240.6 415.90,313.2 415.82,400.2 418.36,400.2 418.27,313.2 418.20,240.6 418.13,182.6 418.07,144.9 418.01,121.7 417.94,110.1ZM417.87,87.6 417.79,100.2 417.74,125.2 417.67,165.8 417.60,228.3 417.53,306.4 417.45,400.2 419.99,400.2 419.91,306.4 419.83,228.3 419.76,165.8 419.70,125.2 419.64,100.2 419.57,87.6ZM419.50,115.3 419.42,126.7 419.37,149.5 419.31,186.5 419.23,243.5 419.16,314.7 419.08,400.2 421.62,400.2 421.54,314.7 421.46,243.5 421.39,186.5 421.33,149.5 421.27,126.7 421.20,115.3ZM421.13,163.4 421.05,172.9 421.00,191.8 420.94,222.6 420.87,270.0 420.79,329.2 420.71,400.2 423.25,400.2 423.17,329.2 423.09,270.0 423.02,222.6 422.96,191.8 422.91,172.9 422.83,163.4ZM422.76,80.6 422.69,93.4 422.63,119.0 422.57,160.5 422.50,224.4 422.42,304.3 422.34,400.2 424.88,400.2 424.80,304.3 424.73,224.4 424.66,160.5 424.59,119.0 424.54,93.4 424.46,80.6ZM424.39,79.4 424.32,92.2 424.26,117.9 424.20,159.6 424.13,223.8 424.05,304.0 423.97,400.2 426.51,400.2 426.43,304.0 426.36,223.8 426.29,159.6 426.23,117.9 426.17,92.2 426.09,79.4ZM426.02,100.4 425.95,112.4 425.89,136.4 425.83,175.4 425.76,235.3 425.69,310.3 425.61,400.2 428.14,400.2 428.06,310.3 427.99,235.3 427.92,175.4 427.86,136.4 427.80,112.4 427.73,100.4ZM427.66,118.8 427.58,130.1 427.52,152.6 427.46,189.1 427.39,245.4 427.32,315.8 427.24,400.2 429.78,400.2 429.70,315.8 429.62,245.4 429.55,189.1 429.49,152.6 429.43,130.1 429.36,118.8ZM429.29,61.0 429.21,74.6 429.16,101.7 429.09,145.8 429.02,213.7 428.95,298.4 428.87,400.2 431.41,400.2 431.33,298.4 431.25,213.7 431.18,145.8 431.12,101.7 431.06,74.6 430.99,61.0ZM430.92,62.8 430.84,76.3 430.79,103.3 430.73,147.1 430.66,214.6 430.58,299.0 430.50,400.2 433.04,400.2 432.96,299.0 432.88,214.6 432.81,147.1 432.75,103.3 432.70,76.3 432.62,62.8ZM432.55,82.0 432.48,94.8 432.42,120.2 432.36,161.6 432.29,225.2 432.21,304.8 432.13,400.2 434.67,400.2 434.59,304.8 434.52,225.2 434.44,161.6 434.38,120.2 434.33,94.8 434.25,82.0ZM434.18,124.9 434.11,135.9 434.05,157.9 433.99,193.7 433.92,248.8 433.84,317.6 433.76,400.2 436.30,400.2 436.22,317.6 436.15,248.8 436.08,193.7 436.01,157.9 435.96,135.9 435.88,124.9ZM435.81,237.8 435.74,244.3 435.68,257.3 435.62,278.4 435.55,310.9 435.48,351.5 435.39,400.2 437.93,400.2 437.85,351.5 437.78,310.9 437.71,278.4 437.65,257.3 437.59,244.3 437.51,237.8ZM437.45,116.2 437.37,127.6 437.31,150.3 437.25,187.2 437.18,244.0 437.11,315.0 437.03,400.2 439.57,400.2 439.48,315.0 439.41,244.0 439.34,187.2 439.28,150.3 439.22,127.6 439.15,116.2ZM439.08,129.6 439.00,140.5 438.94,162.1 438.88,197.3 438.81,251.4 438.74,319.0 438.66,400.2 441.20,400.2 441.12,319.0 441.04,251.4 440.97,197.3 440.91,162.1 440.85,140.5 440.78,129.6ZM440.71,177.8 440.63,186.7 440.58,204.5 440.52,233.4 440.44,277.9 440.37,333.5 440.29,400.2 442.83,400.2 442.75,333.5 442.67,277.9 442.60,233.4 442.54,204.5 442.48,186.7 442.41,177.8ZM442.34,112.2 442.26,123.7 442.21,146.8 442.15,184.2 442.08,241.8 442.00,313.8 441.92,400.2 444.46,400.2 444.38,313.8 444.30,241.8 444.23,184.2 444.17,146.8 444.12,123.7 444.04,112.2ZM443.97,152.4 443.90,162.3 443.84,182.1 443.78,214.4 443.71,263.9 443.63,325.9 443.55,400.2 446.09,400.2 446.01,325.9 445.94,263.9 445.86,214.4 445.80,182.1 445.75,162.3 445.67,152.4ZM445.60,94.7 445.53,106.9 445.47,131.3 445.41,171.1 445.34,232.2 445.26,308.5 445.18,400.2 447.72,400.2 447.64,308.5 447.57,232.2 447.50,171.1 447.44,131.3 447.38,106.9 447.30,94.7ZM447.23,219.4 447.16,226.6 447.10,241.1 447.04,264.6 446.97,300.8 446.90,346.0 446.81,400.2 449.35,400.2 449.27,346.0 449.20,300.8 449.13,264.6 449.07,241.1 449.01,226.6 448.93,219.4ZM448.87,101.7 448.79,113.6 448.73,137.5 448.67,176.3 448.60,236.0 448.53,310.6 448.45,400.2 450.99,400.2 450.90,310.6 450.83,236.0 450.76,176.3 450.70,137.5 450.64,113.6 450.57,101.7ZM450.50,118.3 450.42,129.6 450.37,152.1 450.30,188.8 450.23,245.2 450.16,315.6 450.08,400.2 452.62,400.2 452.54,315.6 452.46,245.2 452.39,188.8 452.33,152.1 452.27,129.6 452.20,118.3ZM452.13,107.8 452.05,119.5 452.00,142.9 451.94,180.9 451.86,239.4 451.79,312.5 451.71,400.2 454.25,400.2 454.17,312.5 454.09,239.4 454.02,180.9 453.96,142.9 453.90,119.5 453.83,107.8ZM453.76,165.9 453.68,175.3 453.63,194.0 453.57,224.5 453.50,271.3 453.42,329.9 453.34,400.2 455.88,400.2 455.80,329.9 455.72,271.3 455.65,224.5 455.59,194.0 455.54,175.3 455.46,165.9ZM455.39,171.7 455.32,180.8 455.26,199.1 455.20,228.8 455.13,274.5 455.05,331.6 454.97,400.2 457.51,400.2 457.43,331.6 457.36,274.5 457.29,228.8 457.22,199.1 457.17,180.8 457.09,171.7ZM457.02,162.0 456.95,171.6 456.89,190.6 456.83,221.6 456.76,269.2 456.68,328.8 456.60,400.2 459.14,400.2 459.06,328.8 458.99,269.2 458.92,221.6 458.86,190.6 458.80,171.6 458.72,162.0ZM458.65,193.0 458.58,201.3 458.52,217.9 458.46,244.8 458.39,286.2 458.32,338.0 458.24,400.2 460.77,400.2 460.69,338.0 460.62,286.2 460.55,244.8 460.49,217.9 460.43,201.3 460.36,193.0ZM460.29,183.9 460.21,192.6 460.15,209.9 460.09,238.0 460.02,281.3 459.95,335.3 459.87,400.2 462.41,400.2 462.33,335.3 462.25,281.3 462.18,238.0 462.12,209.9 462.06,192.6 461.99,183.9ZM461.92,118.8 461.84,130.1 461.79,152.6 461.72,189.2 461.65,245.5 461.58,315.8 461.50,400.2 464.04,400.2 463.96,315.8 463.88,245.5 463.81,189.2 463.75,152.6 463.69,130.1 463.62,118.8ZM463.55,290.7 463.47,295.1 463.42,303.8 463.36,318.1 463.29,340.0 463.21,367.3 463.13,400.2 465.67,400.2 465.59,367.3 465.51,340.0 465.44,318.1 465.38,303.8 465.33,295.1 465.25,290.7ZM465.18,78.0 465.11,90.9 465.05,116.7 464.99,158.6 464.92,223.0 464.84,303.5 464.76,400.2 467.30,400.2 467.22,303.5 467.15,223.0 467.07,158.6 467.01,116.7 466.96,90.9 466.88,78.0ZM466.81,165.2 466.74,174.6 466.68,193.4 466.62,223.9 466.55,270.9 466.47,329.7 466.39,400.2 468.93,400.2 468.85,329.7 468.78,270.9 468.71,223.9 468.64,193.4 468.59,174.6 468.51,165.2ZM468.44,319.6 468.37,322.8 468.31,329.3 468.25,339.8 468.18,355.9 468.11,376.0 468.02,400.2 470.56,400.2 470.48,376.0 470.41,355.9 470.34,339.8 470.28,329.3 470.22,322.8 470.14,319.6ZM470.08,170.8 470.00,180.0 469.94,198.3 469.88,228.2 469.81,274.0 469.74,331.4 469.66,400.2 472.20,400.2 472.11,331.4 472.04,274.0 471.97,228.2 471.91,198.3 471.85,180.0 471.78,170.8ZM471.71,111.7 471.63,123.2 471.57,146.3 471.51,183.8 471.44,241.5 471.37,313.6 471.29,400.2 473.83,400.2 473.75,313.6 473.67,241.5 473.60,183.8 473.54,146.3 473.48,123.2 473.41,111.7ZM473.34,198.8 473.26,206.9 473.21,223.0 473.15,249.2 473.07,289.4 473.00,339.8 472.92,400.2 475.46,400.2 475.38,339.8 475.30,289.4 475.23,249.2 475.17,223.0 475.11,206.9 475.04,198.8ZM474.97,98.2 474.89,110.3 474.84,134.4 474.78,173.7 474.71,234.1 474.63,309.6 474.55,400.2 477.09,400.2 477.01,309.6 476.93,234.1 476.86,173.7 476.80,134.4 476.75,110.3 476.67,98.2ZM476.60,104.7 476.53,116.5 476.47,140.1 476.41,178.5 476.34,237.7 476.26,311.5 476.18,400.2 478.72,400.2 478.64,311.5 478.57,237.7 478.49,178.5 478.43,140.1 478.38,116.5 478.30,104.7ZM478.23,148.0 478.16,158.1 478.10,178.3 478.04,211.1 477.97,261.5 477.89,324.5 477.81,400.2 480.35,400.2 480.27,324.5 480.20,261.5 480.13,211.1 480.07,178.3 480.01,158.1 479.93,148.0ZM479.86,305.9 479.79,309.7 479.73,317.2 479.67,329.5 479.60,348.3 479.53,371.9 479.44,400.2 481.98,400.2 481.90,371.9 481.83,348.3 481.76,329.5 481.70,317.2 481.64,309.7 481.56,305.9ZM481.50,165.5 481.42,174.9 481.36,193.7 481.30,224.2 481.23,271.1 481.16,329.8 481.08,400.2 483.62,400.2 483.53,329.8 483.46,271.1 483.39,224.2 483.33,193.7 483.27,174.9 483.20,165.5ZM483.13,138.4 483.05,148.9 483.00,169.8 482.93,203.8 482.86,256.2 482.79,321.7 482.71,400.2 485.25,400.2 485.17,321.7 485.09,256.2 485.02,203.8 484.96,169.8 484.90,148.9 484.83,138.4ZM484.76,266.7 484.68,272.0 484.63,282.7 484.57,300.1 484.49,326.8 484.42,360.1 484.34,400.2 486.88,400.2 486.80,360.1 486.72,326.8 486.65,300.1 486.59,282.7 486.53,272.0 486.46,266.7ZM486.39,118.3 486.31,129.6 486.26,152.1 486.20,188.8 486.13,245.2 486.05,315.6 485.97,400.2 488.51,400.2 488.43,315.6 488.35,245.2 488.28,188.8 488.22,152.1 488.17,129.6 488.09,118.3ZM488.02,119.2 487.95,130.4 487.89,152.9 487.83,189.4 487.76,245.6 487.68,315.9 487.60,400.2 490.14,400.2 490.06,315.9 489.99,245.6 489.92,189.4 489.85,152.9 489.80,130.4 489.72,119.2ZM489.65,174.3 489.58,183.3 489.52,201.4 489.46,230.8 489.39,276.0 489.31,332.4 489.23,400.2 491.77,400.2 491.69,332.4 491.62,276.0 491.55,230.8 491.49,201.4 491.43,183.3 491.35,174.3ZM491.28,186.6 491.21,195.1 491.15,212.2 491.09,240.0 491.02,282.7 490.95,336.1 490.87,400.2 493.40,400.2 493.32,336.1 493.25,282.7 493.18,240.0 493.12,212.2 493.06,195.1 492.99,186.6ZM492.92,91.5 492.84,103.9 492.78,128.6 492.72,168.7 492.65,230.4 492.58,307.6 492.50,400.2 495.04,400.2 494.96,307.6 494.88,230.4 494.81,168.7 494.75,128.6 494.69,103.9 494.62,91.5ZM494.55,119.7 494.47,130.9 494.42,153.4 494.35,189.8 494.28,245.9 494.21,316.1 494.13,400.2 496.67,400.2 496.59,316.1 496.51,245.9 496.44,189.8 496.38,153.4 496.32,130.9 496.25,119.7ZM496.18,120.9 496.10,132.1 496.05,154.5 495.99,190.8 495.92,246.6 495.84,316.4 495.76,400.2 498.30,400.2 498.22,316.4 498.14,246.6 498.07,190.8 498.01,154.5 497.96,132.1 497.88,120.9ZM497.81,119.2 497.74,130.4 497.68,152.9 497.62,189.4 497.55,245.6 497.47,315.9 497.39,400.2 499.93,400.2 499.85,315.9 499.78,245.6 499.70,189.4 499.64,152.9 499.59,130.4 499.51,119.2ZM499.44,125.0 499.37,136.0 499.31,158.0 499.25,193.8 499.18,248.8 499.10,317.6 499.02,400.2 501.56,400.2 501.48,317.6 501.41,248.8 501.34,193.8 501.27,158.0 501.22,136.0 501.14,125.0ZM501.07,241.7 501.00,248.0 500.94,260.7 500.88,281.3 500.81,313.0 500.74,352.6 500.65,400.2 503.19,400.2 503.11,352.6 503.04,313.0 502.97,281.3 502.91,260.7 502.85,248.0 502.77,241.7ZM502.71,255.7 502.63,261.5 502.57,273.0 502.51,291.8 502.44,320.7 502.37,356.8 502.29,400.2 504.83,400.2 504.74,356.8 504.67,320.7 504.60,291.8 504.54,273.0 504.48,261.5 504.41,255.7ZM504.34,221.5 504.26,228.6 504.20,242.9 504.14,266.2 504.07,301.9 504.00,346.6 503.92,400.2 506.46,400.2 506.38,346.6 506.30,301.9 506.23,266.2 506.17,242.9 506.11,228.6 506.04,221.5ZM505.97,140.7 505.89,151.1 505.84,171.8 505.78,205.6 505.70,257.5 505.63,322.3 505.55,400.2 508.09,400.2 508.01,322.3 507.93,257.5 507.86,205.6 507.80,171.8 507.74,151.1 507.67,140.7ZM507.60,210.1 507.52,217.7 507.47,232.9 507.41,257.6 507.34,295.6 507.26,343.2 507.18,400.2 509.72,400.2 509.64,343.2 509.56,295.6 509.49,257.6 509.43,232.9 509.38,217.7 509.30,210.1ZM509.23,96.1 509.16,108.2 509.10,132.6 509.04,172.1 508.97,232.9 508.89,309.0 508.81,400.2 511.35,400.2 511.27,309.0 511.20,232.9 511.12,172.1 511.06,132.6 511.01,108.2 510.93,96.1ZM510.86,99.4 510.79,111.4 510.73,135.5 510.67,174.6 510.60,234.8 510.52,310.0 510.44,400.2 512.98,400.2 512.90,310.0 512.83,234.8 512.76,174.6 512.70,135.5 512.64,111.4 512.56,99.4ZM512.49,107.5 512.42,119.2 512.36,142.6 512.30,180.6 512.23,239.2 512.16,312.4 512.07,400.2 514.61,400.2 514.53,312.4 514.46,239.2 514.39,180.6 514.33,142.6 514.27,119.2 514.19,107.5ZM514.13,152.9 514.05,162.8 513.99,182.6 513.93,214.8 513.86,264.2 513.79,326.0 513.71,400.2 516.25,400.2 516.16,326.0 516.09,264.2 516.02,214.8 515.96,182.6 515.90,162.8 515.83,152.9ZM515.76,254.8 515.68,260.6 515.63,272.2 515.56,291.1 515.49,320.2 515.42,356.6 515.34,400.2 517.88,400.2 517.80,356.6 517.72,320.2 517.65,291.1 517.59,272.2 517.53,260.6 517.46,254.8ZM517.39,158.9 517.31,168.5 517.26,187.8 517.20,219.2 517.12,267.5 517.05,327.8 516.97,400.2 519.51,400.2 519.43,327.8 519.35,267.5 519.28,219.2 519.22,187.8 519.16,168.5 519.09,158.9ZM519.02,143.6 518.94,153.9 518.89,174.4 518.83,207.8 518.76,259.1 518.68,323.2 518.60,400.2 521.14,400.2 521.06,323.2 520.98,259.1 520.91,207.8 520.85,174.4 520.80,153.9 520.72,143.6ZM520.65,194.4 520.58,202.6 520.52,219.1 520.46,245.8 520.39,287.0 520.31,338.5 520.23,400.2 522.77,400.2 522.69,338.5 522.62,287.0 522.55,245.8 522.48,219.1 522.43,202.6 522.35,194.4ZM522.28,141.0 522.21,151.4 522.15,172.1 522.09,205.8 522.02,257.7 521.94,322.4 521.86,400.2 524.40,400.2 524.32,322.4 524.25,257.7 524.18,205.8 524.12,172.1 524.06,151.4 523.98,141.0ZM523.91,109.9 523.84,121.5 523.78,144.7 523.72,182.5 523.65,240.5 523.58,313.1 523.50,400.2 526.03,400.2 525.95,313.1 525.88,240.5 525.81,182.5 525.75,144.7 525.69,121.5 525.62,109.9ZM525.55,108.2 525.47,119.8 525.41,143.2 525.35,181.2 525.28,239.6 525.21,312.6 525.13,400.2 527.67,400.2 527.59,312.6 527.51,239.6 527.44,181.2 527.38,143.2 527.32,119.8 527.25,108.2ZM527.18,122.2 527.10,133.3 527.05,155.5 526.98,191.7 526.91,247.3 526.84,316.8 526.76,400.2 529.30,400.2 529.22,316.8 529.14,247.3 529.07,191.7 529.01,155.5 528.95,133.3 528.88,122.2ZM528.81,142.4 528.73,152.7 528.68,173.4 528.62,206.9 528.55,258.4 528.47,322.9 528.39,400.2 530.93,400.2 530.85,322.9 530.77,258.4 530.70,206.9 530.64,173.4 530.59,152.7 530.51,142.4ZM530.44,166.4 530.37,175.8 530.31,194.5 530.25,224.9 530.18,271.6 530.10,330.1 530.02,400.2 532.56,400.2 532.48,330.1 532.41,271.6 532.33,224.9 532.27,194.5 532.22,175.8 532.14,166.4ZM532.07,151.8 532.00,161.7 531.94,181.6 531.88,213.9 531.81,263.6 531.73,325.7 531.65,400.2 534.19,400.2 534.11,325.7 534.04,263.6 533.97,213.9 533.90,181.6 533.85,161.7 533.77,151.8ZM533.70,231.2 533.63,238.0 533.57,251.5 533.51,273.4 533.44,307.2 533.37,349.5 533.28,400.2 535.82,400.2 535.74,349.5 535.67,307.2 535.60,273.4 535.54,251.5 535.48,238.0 535.40,231.2ZM535.34,165.0 535.26,174.4 535.20,193.2 535.14,223.8 535.07,270.8 535.00,329.6 534.92,400.2 537.46,400.2 537.37,329.6 537.30,270.8 537.23,223.8 537.17,193.2 537.11,174.4 537.04,165.0ZM536.97,225.0 536.89,232.0 536.83,246.0 536.77,268.8 536.70,303.8 536.63,347.6 536.55,400.2 539.09,400.2 539.01,347.6 538.93,303.8 538.86,268.8 538.80,246.0 538.74,232.0 538.67,225.0ZM538.60,150.9 538.52,160.8 538.47,180.8 538.41,213.2 538.33,263.1 538.26,325.4 538.18,400.2 540.72,400.2 540.64,325.4 540.56,263.1 540.49,213.2 540.43,180.8 540.37,160.8 540.30,150.9ZM540.23,162.7 540.15,172.2 540.10,191.2 540.04,222.1 539.97,269.6 539.89,329.0 539.81,400.2 542.35,400.2 542.27,329.0 542.19,269.6 542.12,222.1 542.06,191.2 542.01,172.2 541.93,162.7ZM541.86,265.7 541.79,271.1 541.73,281.8 541.67,299.3 541.60,326.2 541.52,359.8 541.44,400.2 543.98,400.2 543.90,359.8 543.83,326.2 543.75,299.3 543.69,281.8 543.64,271.1 543.56,265.7ZM543.49,250.6 543.42,256.6 543.36,268.6 543.30,288.0 543.23,317.9 543.15,355.3 543.07,400.2 545.61,400.2 545.53,355.3 545.46,317.9 545.39,288.0 545.33,268.6 545.27,256.6 545.19,250.6ZM545.12,146.1 545.05,156.3 544.99,176.6 544.93,209.6 544.86,260.4 544.79,324.0 544.70,400.2 547.24,400.2 547.16,324.0 547.09,260.4 547.02,209.6 546.96,176.6 546.90,156.3 546.82,146.1ZM546.76,239.8 546.68,246.2 546.62,259.0 546.56,279.9 546.49,312.0 546.42,352.1 546.34,400.2 548.88,400.2 548.79,352.1 548.72,312.0 548.65,279.9 548.59,259.0 548.53,246.2 548.46,239.8ZM548.39,210.1 548.31,217.7 548.26,232.9 548.19,257.6 548.12,295.6 548.05,343.2 547.97,400.2 550.51,400.2 550.43,343.2 550.35,295.6 550.28,257.6 550.22,232.9 550.16,217.7 550.09,210.1ZM550.02,232.5 549.94,239.2 549.89,252.6 549.83,274.4 549.75,308.0 549.68,349.9 549.60,400.2 552.14,400.2 552.06,349.9 551.98,308.0 551.91,274.4 551.85,252.6 551.79,239.2 551.72,232.5ZM551.65,271.7 551.57,276.8 551.52,287.1 551.46,303.8 551.39,329.5 551.31,361.6 551.23,400.2 553.77,400.2 553.69,361.6 553.61,329.5 553.54,303.8 553.48,287.1 553.43,276.8 553.35,271.7ZM553.28,227.9 553.21,234.8 553.15,248.6 553.09,271.0 553.02,305.4 552.94,348.5 552.86,400.2 555.40,400.2 555.32,348.5 555.25,305.4 555.18,271.0 555.11,248.6 555.06,234.8 554.98,227.9ZM554.91,264.4 554.84,269.8 554.78,280.7 554.72,298.3 554.65,325.5 554.57,359.5 554.49,400.2 557.03,400.2 556.95,359.5 556.88,325.5 556.81,298.3 556.75,280.7 556.69,269.8 556.61,264.4ZM556.54,213.8 556.47,221.2 556.41,236.1 556.35,260.4 556.28,297.7 556.21,344.3 556.12,400.2 558.66,400.2 558.58,344.3 558.51,297.7 558.44,260.4 558.38,236.1 558.32,221.2 558.25,213.8ZM558.18,223.3 558.10,230.3 558.04,244.5 557.98,267.5 557.91,302.9 557.84,347.1 557.76,400.2 560.30,400.2 560.22,347.1 560.14,302.9 560.07,267.5 560.01,244.5 559.95,230.3 559.88,223.3ZM559.81,277.6 559.73,282.5 559.68,292.3 559.61,308.2 559.54,332.8 559.47,363.4 559.39,400.2 561.93,400.2 561.85,363.4 561.77,332.8 561.70,308.2 561.64,292.3 561.58,282.5 561.51,277.6ZM561.44,239.1 561.36,245.5 561.31,258.4 561.25,279.4 561.18,311.6 561.10,351.9 561.02,400.2 563.56,400.2 563.48,351.9 563.40,311.6 563.33,279.4 563.27,258.4 563.22,245.5 563.14,239.1ZM563.07,220.0 563.00,227.2 562.94,241.6 562.88,265.0 562.81,301.1 562.73,346.1 562.65,400.2 565.19,400.2 565.11,346.1 565.04,301.1 564.96,265.0 564.90,241.6 564.85,227.2 564.77,220.0ZM564.70,186.5 564.63,195.0 564.57,212.1 564.51,239.9 564.44,282.7 564.36,336.1 564.28,400.2 566.82,400.2 566.74,336.1 566.67,282.7 566.60,239.9 566.53,212.1 566.48,195.0 566.40,186.5ZM566.33,178.8 566.26,187.7 566.20,205.4 566.14,234.2 566.07,278.4 566.00,333.8 565.91,400.2 568.45,400.2 568.37,333.8 568.30,278.4 568.23,234.2 568.17,205.4 568.11,187.7 568.03,178.8ZM567.97,239.1 567.89,245.5 567.83,258.4 567.77,279.4 567.70,311.6 567.63,351.9 567.55,400.2 570.09,400.2 570.00,351.9 569.93,311.6 569.86,279.4 569.80,258.4 569.74,245.5 569.67,239.1ZM569.60,208.5 569.52,216.2 569.46,231.5 569.40,256.4 569.33,294.8 569.26,342.7 569.18,400.2 571.72,400.2 571.64,342.7 571.56,294.8 571.49,256.4 571.43,231.5 571.37,216.2 571.30,208.5ZM571.23,220.6 571.15,227.8 571.10,242.2 571.04,265.5 570.96,301.4 570.89,346.3 570.81,400.2 573.35,400.2 573.27,346.3 573.19,301.4 573.12,265.5 573.06,242.2 573.00,227.8 572.93,220.6ZM572.86,261.4 572.78,267.0 572.73,278.1 572.67,296.1 572.60,323.9 572.52,358.6 572.44,400.2 574.98,400.2 574.90,358.6 574.82,323.9 574.75,296.1 574.69,278.1 574.64,267.0 574.56,261.4ZM574.49,156.8 574.42,166.5 574.36,186.0 574.30,217.6 574.23,266.3 574.15,327.2 574.07,400.2 576.61,400.2 576.53,327.2 576.46,266.3 576.38,217.6 576.32,186.0 576.27,166.5 576.19,156.8ZM576.12,218.7 576.05,225.9 575.99,240.4 575.93,264.0 575.86,300.3 575.78,345.7 575.70,400.2 578.24,400.2 578.16,345.7 578.09,300.3 578.02,264.0 577.96,240.4 577.90,225.9 577.82,218.7ZM577.75,196.6 577.68,204.8 577.62,221.0 577.56,247.5 577.49,288.2 577.42,339.1 577.33,400.2 579.87,400.2 579.79,339.1 579.72,288.2 579.65,247.5 579.59,221.0 579.53,204.8 579.45,196.6ZM579.39,269.3 579.31,274.5 579.25,285.0 579.19,302.0 579.12,328.2 579.05,360.9 578.97,400.2 581.51,400.2 581.42,360.9 581.35,328.2 581.28,302.0 581.22,285.0 581.16,274.5 581.09,269.3ZM581.02,248.6 580.94,254.7 580.89,266.8 580.82,286.5 580.75,316.8 580.68,354.7 580.60,400.2 583.14,400.2 583.06,354.7 582.98,316.8 582.91,286.5 582.85,266.8 582.79,254.7 582.72,248.6ZM582.65,229.9 582.57,236.7 582.52,250.3 582.46,272.5 582.38,306.5 582.31,349.1 582.23,400.2 584.77,400.2 584.69,349.1 584.61,306.5 584.54,272.5 584.48,250.3 584.42,236.7 584.35,229.9ZM584.28,204.8 584.20,212.6 584.15,228.2 584.09,253.6 584.02,292.7 583.94,341.6 583.86,400.2 586.40,400.2 586.32,341.6 586.24,292.7 586.17,253.6 586.11,228.2 586.06,212.6 585.98,204.8ZM585.91,169.3 585.84,178.6 585.78,197.0 585.72,227.0 585.65,273.2 585.57,330.9 585.49,400.2 588.03,400.2 587.95,330.9 587.88,273.2 587.81,227.0 587.74,197.0 587.69,178.6 587.61,169.3ZM587.54,291.5 587.47,295.8 587.41,304.5 587.35,318.7 587.28,340.4 587.20,367.6 587.12,400.2 589.66,400.2 589.58,367.6 589.51,340.4 589.44,318.7 589.38,304.5 589.32,295.8 589.24,291.5ZM589.17,220.6 589.10,227.8 589.04,242.2 588.98,265.5 588.91,301.4 588.84,346.3 588.75,400.2 591.29,400.2 591.21,346.3 591.14,301.4 591.07,265.5 591.01,242.2 590.95,227.8 590.88,220.6ZM590.81,161.3 590.73,170.8 590.67,189.9 590.61,221.0 590.54,268.8 590.47,328.5 590.39,400.2 592.93,400.2 592.85,328.5 592.77,268.8 592.70,221.0 592.64,189.9 592.58,170.8 592.51,161.3ZM592.44,176.2 592.36,185.1 592.31,203.1 592.24,232.2 592.17,277.0 592.10,333.0 592.02,400.2 594.56,400.2 594.48,333.0 594.40,277.0 594.33,232.2 594.27,203.1 594.21,185.1 594.14,176.2ZM594.07,170.0 593.99,179.2 593.94,197.6 593.88,227.5 593.81,273.6 593.73,331.1 593.65,400.2 596.19,400.2 596.11,331.1 596.03,273.6 595.96,227.5 595.90,197.6 595.85,179.2 595.77,170.0ZM595.70,187.0 595.63,195.5 595.57,212.6 595.51,240.3 595.44,282.9 595.36,336.2 595.28,400.2 597.82,400.2 597.74,336.2 597.67,282.9 597.59,240.3 597.53,212.6 597.48,195.5 597.40,187.0ZM597.33,193.6 597.26,201.8 597.20,218.4 597.14,245.2 597.07,286.6 596.99,338.2 596.91,400.2 599.45,400.2 599.37,338.2 599.30,286.6 599.23,245.2 599.16,218.4 599.11,201.8 599.03,193.6ZM598.96,186.1 598.89,194.6 598.83,211.8 598.77,239.6 598.70,282.4 598.63,336.0 598.54,400.2 601.08,400.2 601.00,336.0 600.93,282.4 600.86,239.6 600.80,211.8 600.74,194.6 600.66,186.1ZM600.60,239.9 600.52,246.3 600.46,259.1 600.40,280.0 600.33,312.0 600.26,352.1 600.18,400.2 602.72,400.2 602.63,352.1 602.56,312.0 602.49,280.0 602.43,259.1 602.37,246.3 602.30,239.9ZM602.23,247.3 602.15,253.4 602.09,265.6 602.03,285.5 601.96,316.1 601.89,354.3 601.81,400.2 604.35,400.2 604.27,354.3 604.19,316.1 604.12,285.5 604.06,265.6 604.00,253.4 603.93,247.3ZM603.86,220.4 603.78,227.6 603.73,241.9 603.67,265.3 603.59,301.3 603.52,346.2 603.44,400.2 605.98,400.2 605.90,346.2 605.82,301.3 605.75,265.3 605.69,241.9 605.63,227.6 605.56,220.4ZM605.49,182.1 605.41,190.8 605.36,208.3 605.30,236.6 605.23,280.3 605.15,334.8 605.07,400.2 607.61,400.2 607.53,334.8 607.45,280.3 607.38,236.6 607.32,208.3 607.27,190.8 607.19,182.1ZM607.12,185.4 607.05,194.0 606.99,211.2 606.93,239.1 606.86,282.1 606.78,335.8 606.70,400.2 609.24,400.2 609.16,335.8 609.09,282.1 609.01,239.1 608.95,211.2 608.90,194.0 608.82,185.4ZM608.75,244.6 608.68,250.8 608.62,263.3 608.56,283.5 608.49,314.6 608.41,353.5 608.33,400.2 610.87,400.2 610.79,353.5 610.72,314.6 610.65,283.5 610.59,263.3 610.53,250.8 610.45,244.6ZM610.38,260.5 610.31,266.1 610.25,277.3 610.19,295.4 610.12,323.4 610.05,358.3 609.96,400.2 612.50,400.2 612.42,358.3 612.35,323.4 612.28,295.4 612.22,277.3 612.16,266.1 612.08,260.5ZM612.02,255.2 611.94,261.0 611.88,272.6 611.82,291.4 611.75,320.4 611.68,356.7 611.60,400.2 614.14,400.2 614.05,356.7 613.98,320.4 613.91,291.4 613.85,272.6 613.79,261.0 613.72,255.2ZM613.65,293.4 613.57,297.7 613.52,306.2 613.45,320.1 613.38,341.5 613.31,368.2 613.23,400.2 615.77,400.2 615.69,368.2 615.61,341.5 615.54,320.1 615.48,306.2 615.42,297.7 615.35,293.4ZM615.28,277.6 615.20,282.5 615.15,292.3 615.09,308.2 615.01,332.8 614.94,363.4 614.86,400.2 617.40,400.2 617.32,363.4 617.24,332.8 617.17,308.2 617.11,292.3 617.05,282.5 616.98,277.6ZM616.91,228.8 616.83,235.7 616.78,249.4 616.72,271.7 616.65,306.0 616.57,348.8 616.49,400.2 619.03,400.2 618.95,348.8 618.87,306.0 618.80,271.7 618.74,249.4 618.69,235.7 618.61,228.8ZM618.54,205.1 618.47,212.9 618.41,228.5 618.35,253.9 618.28,292.9 618.20,341.7 618.12,400.2 620.66,400.2 620.58,341.7 620.51,292.9 620.44,253.9 620.37,228.5 620.32,212.9 620.24,205.1ZM620.17,250.5 620.10,256.4 620.04,268.4 619.98,287.9 619.91,317.8 619.83,355.3 619.75,400.2 622.29,400.2 622.21,355.3 622.14,317.8 622.07,287.9 622.01,268.4 621.95,256.4 621.87,250.5ZM621.80,290.3 621.73,294.7 621.67,303.5 621.61,317.8 621.54,339.8 621.47,367.2 621.38,400.2 623.92,400.2 623.84,367.2 623.77,339.8 623.70,317.8 623.64,303.5 623.58,294.7 623.50,290.3ZM623.44,253.1 623.36,259.0 623.30,270.7 623.24,289.9 623.17,319.3 623.10,356.1 623.02,400.2 625.56,400.2 625.48,356.1 625.40,319.3 625.33,289.9 625.27,270.7 625.21,259.0 625.14,253.1ZM625.07,253.1 624.99,259.0 624.94,270.7 624.87,289.9 624.80,319.3 624.73,356.1 624.65,400.2 627.19,400.2 627.11,356.1 627.03,319.3 626.96,289.9 626.90,270.7 626.84,259.0 626.77,253.1ZM626.70,188.2 626.62,196.7 626.57,213.6 626.51,241.2 626.44,283.6 626.36,336.6 626.28,400.2 628.82,400.2 628.74,336.6 628.66,283.6 628.59,241.2 628.53,213.6 628.48,196.7 628.40,188.2ZM628.33,199.1 628.26,207.2 628.20,223.3 628.14,249.4 628.07,289.6 627.99,339.9 627.91,400.2 630.45,400.2 630.37,339.9 630.30,289.6 630.22,249.4 630.16,223.3 630.11,207.2 630.03,199.1ZM629.96,235.9 629.89,242.5 629.83,255.6 629.77,277.0 629.70,309.9 629.62,350.9 629.54,400.2 632.08,400.2 632.00,350.9 631.93,309.9 631.86,277.0 631.79,255.6 631.74,242.5 631.66,235.9ZM631.59,257.1 631.52,262.8 631.46,274.2 631.40,292.8 631.33,321.5 631.26,357.3 631.17,400.2 633.71,400.2 633.63,357.3 633.56,321.5 633.49,292.8 633.43,274.2 633.37,262.8 633.29,257.1ZM633.23,306.8 633.15,310.5 633.09,318.0 633.03,330.1 632.96,348.8 632.89,372.2 632.81,400.2 635.35,400.2 635.26,372.2 635.19,348.8 635.12,330.1 635.06,318.0 635.00,310.5 634.93,306.8ZM634.86,223.8 634.78,230.9 634.72,245.0 634.66,267.9 634.59,303.2 634.52,347.3 634.44,400.2 636.98,400.2 636.90,347.3 636.82,303.2 636.75,267.9 636.69,245.0 636.63,230.9 636.56,223.8ZM636.49,312.7 636.41,316.2 636.36,323.2 636.30,334.6 636.22,352.1 636.15,373.9 636.07,400.2 638.61,400.2 638.53,373.9 638.45,352.1 638.38,334.6 638.32,323.2 638.26,316.2 638.19,312.7ZM638.12,343.7 638.04,346.0 637.99,350.5 637.93,357.8 637.86,369.1 637.78,383.2 637.70,400.2 640.24,400.2 640.16,383.2 640.08,369.1 640.01,357.8 639.95,350.5 639.90,346.0 639.82,343.7ZM639.75,245.2 639.68,251.4 639.62,263.8 639.56,283.9 639.49,314.9 639.41,353.7 639.33,400.2 641.87,400.2 641.79,353.7 641.72,314.9 641.64,283.9 641.58,263.8 641.53,251.4 641.45,245.2ZM641.38,250.5 641.31,256.4 641.25,268.4 641.19,287.9 641.12,317.8 641.04,355.3 640.96,400.2 643.50,400.2 643.42,355.3 643.35,317.8 643.28,287.9 643.22,268.4 643.16,256.4 643.08,250.5ZM643.01,312.7 642.94,316.2 642.88,323.2 642.82,334.6 642.75,352.1 642.68,373.9 642.59,400.2 645.13,400.2 645.05,373.9 644.98,352.1 644.91,334.6 644.85,323.2 644.79,316.2 644.71,312.7ZM644.65,224.1 644.57,231.1 644.51,245.2 644.45,268.1 644.38,303.3 644.31,347.4 644.23,400.2 646.77,400.2 646.68,347.4 646.61,303.3 646.54,268.1 646.48,245.2 646.42,231.1 646.35,224.1ZM646.28,200.3 646.20,208.3 646.15,224.3 646.08,250.3 646.01,290.3 645.94,340.2 645.86,400.2 648.40,400.2 648.32,340.2 648.24,290.3 648.17,250.3 648.11,224.3 648.05,208.3 647.98,200.3ZM647.91,213.3 647.83,220.7 647.78,235.7 647.72,260.0 647.64,297.4 647.57,344.1 647.49,400.2 650.03,400.2 649.95,344.1 649.87,297.4 649.80,260.0 649.74,235.7 649.68,220.7 649.61,213.3ZM649.54,264.3 649.46,269.7 649.41,280.6 649.35,298.3 649.28,325.5 649.20,359.4 649.12,400.2 651.66,400.2 651.58,359.4 651.50,325.5 651.43,298.3 651.37,280.6 651.32,269.7 651.24,264.3ZM651.17,242.5 651.10,248.8 651.04,261.5 650.98,282.0 650.91,313.5 650.83,352.9 650.75,400.2 653.29,400.2 653.21,352.9 653.14,313.5 653.07,282.0 653.00,261.5 652.95,248.8 652.87,242.5ZM652.80,200.3 652.73,208.3 652.67,224.3 652.61,250.3 652.54,290.3 652.46,340.2 652.38,400.2 654.92,400.2 654.84,340.2 654.77,290.3 654.70,250.3 654.64,224.3 654.58,208.3 654.50,200.3ZM654.43,200.3 654.36,208.3 654.30,224.3 654.24,250.3 654.17,290.3 654.10,340.2 654.01,400.2 656.55,400.2 656.47,340.2 656.40,290.3 656.33,250.3 656.27,224.3 656.21,208.3 656.13,200.3ZM656.07,206.7 655.99,214.4 655.93,229.9 655.87,255.1 655.80,293.8 655.73,342.1 655.65,400.2 658.19,400.2 658.11,342.1 658.03,293.8 657.96,255.1 657.90,229.9 657.84,214.4 657.77,206.7ZM657.70,231.7 657.62,238.5 657.57,252.0 657.50,273.9 657.43,307.5 657.36,349.7 657.28,400.2 659.82,400.2 659.74,349.7 659.66,307.5 659.59,273.9 659.53,252.0 659.47,238.5 659.40,231.7ZM659.33,202.3 659.25,210.2 659.20,226.1 659.14,251.8 659.07,291.4 658.99,340.8 658.91,400.2 661.45,400.2 661.37,340.8 661.29,291.4 661.22,251.8 661.16,226.1 661.11,210.2 661.03,202.3ZM660.96,208.0 660.89,215.7 660.83,231.1 660.77,256.0 660.70,294.5 660.62,342.5 660.54,400.2 663.08,400.2 663.00,342.5 662.93,294.5 662.85,256.0 662.79,231.1 662.74,215.7 662.66,208.0ZM662.59,280.1 662.52,284.9 662.46,294.6 662.40,310.2 662.33,334.2 662.25,364.2 662.17,400.2 664.71,400.2 664.63,364.2 664.56,334.2 664.49,310.2 664.42,294.6 664.37,284.9 664.29,280.1ZM664.22,292.3 664.15,296.6 664.09,305.2 664.03,319.3 663.96,340.9 663.89,367.8 663.80,400.2 666.34,400.2 666.26,367.8 666.19,340.9 666.12,319.3 666.06,305.2 666.00,296.6 665.92,292.3ZM665.86,205.6 665.78,213.4 665.72,229.0 665.66,254.3 665.59,293.2 665.52,341.8 665.44,400.2 667.98,400.2 667.89,341.8 667.82,293.2 667.75,254.3 667.69,229.0 667.63,213.4 667.56,205.6ZM667.49,344.6 667.41,346.8 667.35,351.3 667.29,358.5 667.22,369.6 667.15,383.5 667.07,400.2 669.61,400.2 669.53,383.5 669.45,369.6 669.38,358.5 669.32,351.3 669.26,346.8 669.19,344.6ZM669.12,304.1 669.04,307.9 668.99,315.6 668.93,328.1 668.85,347.3 668.78,371.4 668.70,400.2 671.24,400.2 671.16,371.4 671.08,347.3 671.01,328.1 670.95,315.6 670.89,307.9 670.82,304.1ZM670.75,258.4 670.67,264.0 670.62,275.4 670.56,293.8 670.49,322.2 670.41,357.7 670.33,400.2 672.87,400.2 672.79,357.7 672.71,322.2 672.64,293.8 672.58,275.4 672.53,264.0 672.45,258.4ZM672.38,244.5 672.31,250.7 672.25,263.2 672.19,283.4 672.12,314.6 672.04,353.5 671.96,400.2 674.50,400.2 674.42,353.5 674.35,314.6 674.27,283.4 674.21,263.2 674.16,250.7 674.08,244.5ZM674.01,210.6 673.94,218.2 673.88,233.4 673.82,258.0 673.75,295.9 673.67,343.3 673.59,400.2 676.13,400.2 676.05,343.3 675.98,295.9 675.91,258.0 675.85,233.4 675.79,218.2 675.71,210.6ZM675.64,234.6 675.57,241.2 675.51,254.5 675.45,276.0 675.38,309.1 675.31,350.5 675.22,400.2 677.76,400.2 677.68,350.5 677.61,309.1 677.54,276.0 677.48,254.5 677.42,241.2 677.34,234.6ZM677.28,250.5 677.20,256.4 677.14,268.4 677.08,287.9 677.01,317.8 676.94,355.3 676.86,400.2 679.40,400.2 679.31,355.3 679.24,317.8 679.17,287.9 679.11,268.4 679.05,256.4 678.98,250.5Z" fill="#0072bd"/>
<polyline points="84.3,359.5 126.6,345 178.3,327.2 236.2,307.2 284.5,288.4 328.5,290.4 382.8,293.4 432,307.2 482.3,316.4 532.3,350.4 579.4,362 631.6,373" fill="none" stroke="#c4000c" stroke-width="2.5" stroke-linejoin="round"/>
<g stroke="#262626" stroke-width="1.15" fill="none">
<path d="M83.5,0.8V400.4"/>
<path d="M75,399.8H681.6"/>
<path d="M75.5,1.4H83.5"/>
<path d="M75.5,60.6H83.5"/>
<path d="M75.5,117.3H83.5"/>
<path d="M75.5,173.9H83.5"/>
<path d="M75.5,231.0H83.5"/>
<path d="M75.5,287.5H83.5"/>
<path d="M75.5,344.25H83.5"/>
<path d="M126.6,393V400"/>
<path d="M178.3,393V400"/>
<path d="M230.6,393V400"/>
<path d="M282.5,393V400"/>
<path d="M328.5,393V400"/>
<path d="M380.8,393V400"/>
<path d="M432.8,393V400"/>
<path d="M485,393V400"/>
<path d="M532.8,393V400"/>
<path d="M578.7,393V400"/>
<path d="M629.9,393V400"/>
<path d="M681,393V400.4"/>
</g>
<path d="M424.7,4.6H464.4" stroke="#0072bd" stroke-width="1.6"/>
<path d="M424.7,33.2H464.4" stroke="#c4000c" stroke-width="1.6"/>
<text x="583.6" y="11.1" font-size="16.1" text-anchor="middle" style="stroke-width:0.2px">Hourly power output</text>
<text x="583.2" y="40.1" font-size="16.1" text-anchor="middle" style="stroke-width:0.2px">Monthly average power output</text>
<text transform="translate(73.7,17.45) scale(1.0,1.01)" font-size="24" text-anchor="end">3500</text>
<text transform="translate(73.7,71.25) scale(1.0,1.01)" font-size="24" text-anchor="end">3000</text>
<text transform="translate(73.7,126.95) scale(1.0,1.01)" font-size="24" text-anchor="end">2500</text>
<text transform="translate(73.7,182.95) scale(1.0,1.01)" font-size="24" text-anchor="end">2000</text>
<text transform="translate(73.7,238.65) scale(1.0,1.01)" font-size="24" text-anchor="end">1500</text>
<text transform="translate(73.7,294.65) scale(1.0,1.01)" font-size="24" text-anchor="end">1000</text>
<text transform="translate(68.3,351.05) scale(1.0,1.01)" font-size="24" text-anchor="end">500</text>
<text transform="translate(50.4,406.6) scale(1.0,1.01)" font-size="24" text-anchor="middle">0</text>
<text transform="translate(82.3,418.2) scale(1.0,1.04)" font-size="24" text-anchor="middle">1</text>
<text transform="translate(125.4,420.8) scale(1.0,1.04)" font-size="24" text-anchor="middle">2</text>
<text transform="translate(178.2,420.8) scale(1.0,1.04)" font-size="24" text-anchor="middle">3</text>
<text transform="translate(229.6,420.8) scale(1.0,1.04)" font-size="24" text-anchor="middle">4</text>
<text transform="translate(282,420.8) scale(1.0,1.04)" font-size="24" text-anchor="middle">5</text>
<text transform="translate(327.8,420.8) scale(1.0,1.04)" font-size="24" text-anchor="middle">6</text>
<text transform="translate(380.2,420.8) scale(1.0,1.04)" font-size="24" text-anchor="middle">7</text>
<text transform="translate(433.2,420.8) scale(1.0,1.04)" font-size="24" text-anchor="middle">8</text>
<text transform="translate(484.4,420.8) scale(1.0,1.04)" font-size="24" text-anchor="middle">9</text>
<text transform="translate(530.8,420.8) scale(1.0,1.04)" font-size="24" text-anchor="middle">10</text>
<text transform="translate(579.7,420.8) scale(1.0,1.04)" font-size="24" text-anchor="middle">11</text>
<text transform="translate(632,420.8) scale(1.0,1.04)" font-size="24" text-anchor="middle">12</text>
<text transform="translate(682.5,420.6) scale(1.0,0.99)" font-size="24" text-anchor="middle">1</text>
<text transform="translate(383,446.3) scale(0.98,0.99)" font-size="24" text-anchor="middle">Month</text>
<text transform="translate(17.2,201.4) rotate(-90) scale(1.0065,1.0)" font-size="24" text-anchor="middle">Photovoltaic output (MW)</text>
</svg></body></html>
